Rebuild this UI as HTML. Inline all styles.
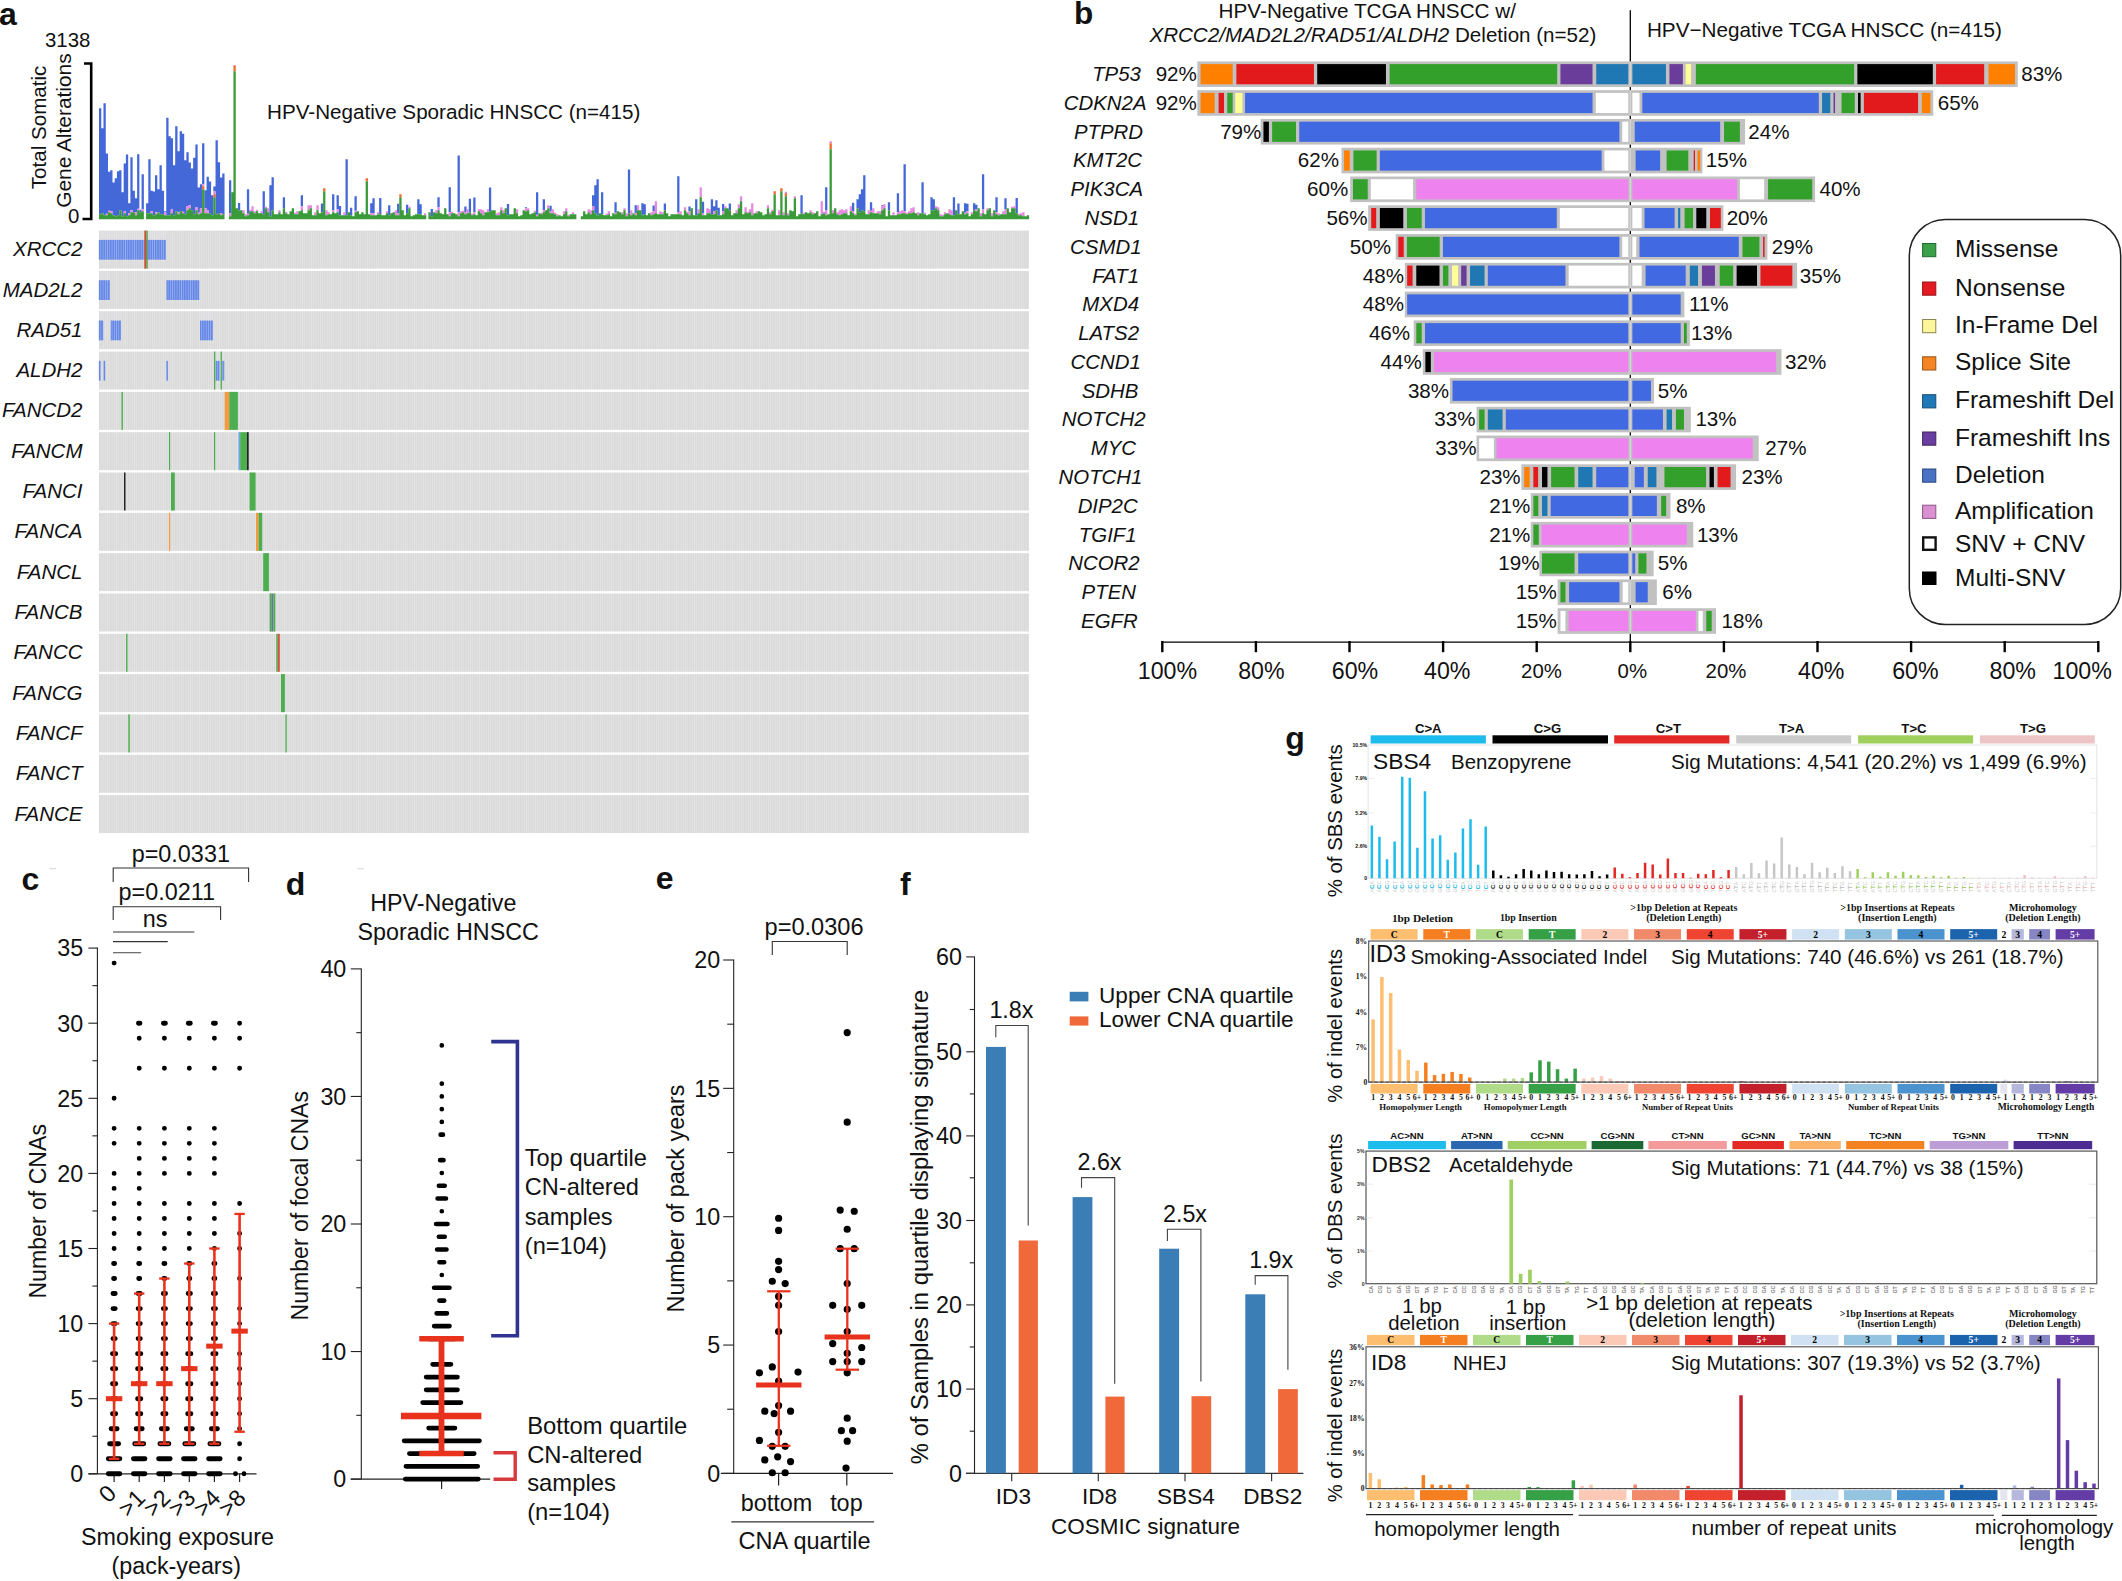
<!DOCTYPE html>
<html lang="en"><head><meta charset="utf-8"><title>Figure</title>
<style>
html,body{margin:0;padding:0;background:#fff;}
body{width:2122px;height:1581px;overflow:hidden;}
svg{display:block;}
text{font-family:"Liberation Sans",Arial,Helvetica,sans-serif;}
text.s{font-family:"Liberation Serif","Times New Roman",Times,serif;}
</style></head><body>
<svg width="2122" height="1581" viewBox="0 0 2122 1581">
<rect width="2122" height="1581" fill="#fff"/>
<g fill="#111">
<text x="-1" y="24.5" font-size="32" font-weight="bold">a</text>
<text x="45" y="47" font-size="20.4">3138</text>
<text x="68" y="223.4" font-size="20.4">0</text>
<path d="M84 63.5H91.2V219H82.5" stroke="#000" stroke-width="2.6" fill="none"/>
<text text-anchor="middle" font-size="20.6" transform="translate(46 127.4) rotate(-90)">Total Somatic</text>
<text text-anchor="middle" font-size="20.9" transform="translate(71 130.6) rotate(-90)">Gene Alterations</text>
<text x="267" y="119" font-size="20.65">HPV-Negative Sporadic HNSCC (n=415)</text>
<path d="M99 214.2v-106h2.29v106zM101.24 213.2v-85h2.29v85zM103.48 215.2v-112h2.29v112zM105.72 213.7v-60.1h2.29v60.1zM107.96 210.7v-39h2.29v39zM110.2 211.2v-41h2.29v41zM112.45 215.2v-32.8h2.29v32.8zM114.69 216.2v-38h2.29v38zM116.93 215.2v-44h2.29v44zM119.17 210.2v-40h2.29v40zM121.41 216.2v-24h2.29v24zM123.65 211.2v-47.7h2.29v47.7zM125.89 216.2v-61.8h2.29v61.8zM128.13 213.2v-10h2.29v10zM130.37 210.2v-53h2.29v53zM132.61 212.2v-21.5h2.29v21.5zM134.86 212.2v-14h2.29v14zM137.1 208.7v-54.5h2.29v54.5zM139.34 212.2v-2.5h2.29v2.5zM141.58 209.2v-35h2.29v35zM146.06 213.2v-10h2.29v10zM148.3 213.2v-54h2.29v54zM150.54 211.2v-20.5h2.29v20.5zM152.78 215.2v-23.7h2.29v23.7zM155.02 212.2v-36.9h2.29v36.9zM157.27 212.2v-23h2.29v23zM159.51 214.2v-49h2.29v49zM161.75 214.2v-23.5h2.29v23.5zM163.99 212.2v-1h2.29v1zM166.23 215.2v-97.4h2.29v97.4zM168.47 215.2v-79h2.29v79zM170.71 209.2v-71h2.29v71zM172.95 215.2v-50h2.29v50zM175.19 211.2v-84.9h2.29v84.9zM177.43 212.2v-61h2.29v61zM179.67 211.2v-80h2.29v80zM181.92 211.7v-77.9h2.29v77.9zM184.16 214.2v-54h2.29v54zM186.4 206.2v-54h2.29v54zM188.64 205.2v-42.6h2.29v42.6zM190.88 210.2v-41.8h2.29v41.8zM193.12 214.2v-56.5h2.29v56.5zM195.36 207.2v-62.7h2.29v62.7zM197.6 212.7v-25.3h2.29v25.3zM199.84 208.2v-24h2.29v24zM202.08 184.2v-40.9h2.29v40.9zM204.33 208.2v-18h2.29v18zM206.57 210.2v-33.5h2.29v33.5zM208.81 213.2v-31.6h2.29v31.6zM211.05 215.2v-20h2.29v20zM213.29 191.2v-4.7h2.29v4.7zM215.53 214.2v-74h2.29v74zM217.77 213.2v-51h2.29v51zM220.01 213.2v-35.7h2.29v35.7zM222.25 214.2v-40.8h2.29v40.8zM228.98 213.2v-33h2.29v33zM237.94 210.2v-7.3h2.29v7.3zM246.9 213.7v-24.5h2.29v24.5zM262.59 214.2v-23h2.29v23zM269.31 216.2v-31h2.29v31zM271.55 210.2v-33h2.29v33zM282.76 208.2v-11h2.29v11zM300.69 206.2v-11h2.29v11zM320.86 212.2v-8.6h2.29v8.6zM332.06 210.2v-16h2.29v16zM336.54 209.2v-14h2.29v14zM338.78 215.2v-9.08h2.29v9.08zM345.51 215.2v-56h2.29v56zM349.99 215.2v-7.34h2.29v7.34zM354.47 210.7v-14.5h2.29v14.5zM370.16 213.2v-9.93h2.29v9.93zM372.4 213.2v-15h2.29v15zM379.12 214.2v-16.08h2.29v16.08zM388.08 215.2v-9.88h2.29v9.88zM397.05 213.2v-9.45h2.29v9.45zM406.01 213.2v-8.46h2.29v8.46zM417.22 214.2v-15h2.29v15zM419.46 214.2v-9.97h2.29v9.97zM430.66 216.2v-7.13h2.29v7.13zM437.39 207.2v-10h2.29v10zM448.59 212.2v-25h2.29v25zM457.55 212.2v-56.6h2.29v56.6zM464.28 212.2v-5.67h2.29v5.67zM468.76 212.2v-13.54h2.29v13.54zM473.24 212.2v-14.66h2.29v14.66zM488.93 211.2v-23.6h2.29v23.6zM506.86 215.2v-11.16h2.29v11.16zM524.78 208.2v-0.88h2.29v0.88zM535.99 214.7v-22.5h2.29v22.5zM542.71 210.2v-11h2.29v11zM549.43 211.2v-5.44h2.29v5.44zM592.01 206.2v-11h2.29v11zM594.25 213.2v-28h2.29v28zM596.49 215.2v-36h2.29v36zM600.98 214.2v-22h2.29v22zM614.42 212.7v-10.5h2.29v10.5zM627.87 213.2v-43.6h2.29v43.6zM634.59 213.2v-8h2.29v8zM641.31 215.2v-12h2.29v12zM643.55 214.2v-10.01h2.29v10.01zM652.52 211.2v-5.76h2.29v5.76zM663.72 210.2v-6.82h2.29v6.82zM677.17 212.2v-36h2.29v36zM688.37 211.2v-4.75h2.29v4.75zM695.1 215.2v-16h2.29v16zM701.82 213.2v-11.36h2.29v11.36zM710.78 214.2v-15h2.29v15zM713.02 211.2v-4.88h2.29v4.88zM715.27 210.2v-10h2.29v10zM717.51 215.2v-7.36h2.29v7.36zM721.99 211.2v-7.23h2.29v7.23zM728.71 210.2v-6.78h2.29v6.78zM800.42 213.2v-18h2.29v18zM825.07 210.2v-23h2.29v23zM851.96 211.2v-8.57h2.29v8.57zM856.45 208.2v-9h2.29v9zM858.69 212.2v-18h2.29v18zM860.93 210.2v-21h2.29v21zM863.17 211.2v-36h2.29v36zM869.89 210.7v-8.4h2.29v8.4zM881.1 206.2v-1h2.29v1zM887.82 210.2v-8h2.29v8zM896.78 212.2v-19h2.29v19zM903.51 211.2v-47h2.29v47zM921.43 213.2v-31h2.29v31zM930.4 210.2v-13h2.29v13zM932.64 210.2v-11h2.29v11zM952.81 215.2v-18h2.29v18zM957.29 214.2v-10.75h2.29v10.75zM964.01 212.7v-9.5h2.29v9.5zM966.25 211.2v-7.45h2.29v7.45zM972.98 210.2v-7h2.29v7zM975.22 209.2v-4.38h2.29v4.38zM981.94 209.2v-35h2.29v35zM995.39 212.2v-15h2.29v15zM1004.35 209.2v-11h2.29v11zM1015.55 213.2v-15.29h2.29v15.29z" fill="#4468d8"/>
<path d="M105.72 215.2v-1.5h2.29v1.5zM107.96 212.2v-1.5h2.29v1.5zM110.2 213.2v-2h2.29v2zM123.65 213.2v-2h2.29v2zM128.13 215.2v-2h2.29v2zM130.37 212.2v-2h2.29v2zM134.86 215.2v-3h2.29v3zM137.1 210.2v-1.5h2.29v1.5zM141.58 211.2v-2h2.29v2zM150.54 213.2v-2h2.29v2zM155.02 214.2v-2h2.29v2zM163.99 215.2v-3h2.29v3zM170.71 213.2v-4h2.29v4zM177.43 214.2v-2h2.29v2zM181.92 213.2v-1.5h2.29v1.5zM186.4 210.2v-4h2.29v4zM188.64 208.2v-3h2.29v3zM195.36 210.2v-3h2.29v3zM197.6 214.2v-1.5h2.29v1.5zM199.84 213.2v-5h2.29v5zM202.08 186.2v-2h2.29v2zM204.33 213.2v-5h2.29v5zM206.57 213.2v-3h2.29v3zM213.29 194.2v-3h2.29v3zM220.01 215.2v-2h2.29v2zM228.98 216.2v-3h2.29v3zM242.42 213.2v-3h2.29v3zM244.66 216.2v-2h2.29v2zM246.9 215.2v-1.5h2.29v1.5zM249.14 211.2v-1.5h2.29v1.5zM251.39 211.2v-5h2.29v5zM253.63 213.2v-2h2.29v2zM255.87 211.2v-1.5h2.29v1.5zM260.35 213.2v-2h2.29v2zM264.83 208.2v-1.5h2.29v1.5zM267.07 212.2v-4h2.29v4zM278.28 212.2v-2h2.29v2zM285 213.2v-1.5h2.29v1.5zM293.96 214.2v-1.5h2.29v1.5zM296.2 214.2v-3h2.29v3zM300.69 210.2v-4h2.29v4zM307.41 210.2v-5h2.29v5zM309.65 208.2v-3h2.29v3zM314.13 215.2v-3h2.29v3zM316.37 210.2v-5h2.29v5zM325.34 215.2v-5h2.29v5zM327.58 214.2v-2h2.29v2zM332.06 212.2v-2h2.29v2zM336.54 212.2v-3h2.29v3zM343.27 215.2v-3h2.29v3zM354.47 212.2v-1.5h2.29v1.5zM370.16 215.2v-2h2.29v2zM372.4 215.2v-2h2.29v2zM376.88 214.2v-2h2.29v2zM385.84 213.2v-2h2.29v2zM394.81 215.2v-5h2.29v5zM397.05 215.2v-2h2.29v2zM408.25 208.2v-1.5h2.29v1.5zM423.94 215.2v-2h2.29v2zM435.14 213.2v-3h2.29v3zM437.39 210.2v-3h2.29v3zM448.59 216.2v-4h2.29v4zM450.83 213.2v-1.5h2.29v1.5zM457.55 216.2v-4h2.29v4zM459.8 213.2v-2h2.29v2zM462.04 212.2v-1.5h2.29v1.5zM464.28 214.2v-2h2.29v2zM466.52 213.2v-4h2.29v4zM471 215.2v-1.5h2.29v1.5zM473.24 214.2v-2h2.29v2zM477.72 211.2v-2h2.29v2zM479.96 213.2v-4h2.29v4zM482.2 215.2v-5h2.29v5zM486.69 212.2v-3h2.29v3zM495.65 215.2v-2h2.29v2zM497.89 215.2v-3h2.29v3zM500.13 210.2v-3h2.29v3zM502.37 213.2v-3h2.29v3zM515.82 213.2v-4h2.29v4zM524.78 211.2v-3h2.29v3zM527.02 210.2v-2h2.29v2zM533.75 212.2v-1.5h2.29v1.5zM535.99 216.2v-1.5h2.29v1.5zM540.47 214.2v-1.5h2.29v1.5zM542.71 212.2v-2h2.29v2zM547.19 208.2v-3h2.29v3zM549.43 213.2v-2h2.29v2zM551.67 213.2v-4h2.29v4zM553.92 214.2v-1.5h2.29v1.5zM556.16 216.2v-2h2.29v2zM562.88 214.2v-3h2.29v3zM565.12 211.2v-3h2.29v3zM567.36 216.2v-1.5h2.29v1.5zM571.84 214.2v-2h2.29v2zM587.53 212.2v-3h2.29v3zM589.77 214.2v-4h2.29v4zM592.01 210.2v-4h2.29v4zM605.46 215.2v-1.5h2.29v1.5zM607.7 214.2v-3h2.29v3zM614.42 214.2v-1.5h2.29v1.5zM621.14 214.2v-2h2.29v2zM623.39 210.2v-2h2.29v2zM625.63 216.2v-3h2.29v3zM630.11 215.2v-5h2.29v5zM634.59 215.2v-2h2.29v2zM636.83 210.2v-5h2.29v5zM650.28 215.2v-3h2.29v3zM652.52 214.2v-3h2.29v3zM654.76 213.2v-12h2.29v12zM659.24 214.2v-3h2.29v3zM661.48 214.2v-2h2.29v2zM677.17 214.2v-2h2.29v2zM679.41 214.2v-3h2.29v3zM683.89 210.2v-3h2.29v3zM686.13 213.2v-1.5h2.29v1.5zM688.37 215.2v-4h2.29v4zM697.34 213.2v-4h2.29v4zM699.58 197.2v-10h2.29v10zM701.82 215.2v-2h2.29v2zM706.3 213.2v-5h2.29v5zM708.54 213.2v-4h2.29v4zM713.02 214.2v-3h2.29v3zM721.99 214.2v-3h2.29v3zM724.23 208.2v-2h2.29v2zM735.43 213.2v-3h2.29v3zM737.67 208.2v-4h2.29v4zM739.92 201.2v-5h2.29v5zM744.4 212.2v-5h2.29v5zM746.64 213.2v-1.5h2.29v1.5zM748.88 212.2v-3h2.29v3zM751.12 215.2v-12h2.29v12zM755.6 213.2v-2h2.29v2zM766.81 208.2v-3h2.29v3zM769.05 214.2v-2h2.29v2zM771.29 211.2v-1.5h2.29v1.5zM778.01 215.2v-5h2.29v5zM782.49 215.2v-3h2.29v3zM784.73 193.2v-1.5h2.29v1.5zM786.98 215.2v-2h2.29v2zM793.7 198.2v-2h2.29v2zM802.66 214.2v-1.5h2.29v1.5zM809.39 212.2v-2h2.29v2zM811.63 214.2v-2h2.29v2zM820.59 214.2v-13h2.29v13zM822.83 213.2v-1.5h2.29v1.5zM825.07 215.2v-5h2.29v5zM829.55 143.2v-2h2.29v2zM831.8 213.2v-3h2.29v3zM836.28 214.2v-2h2.29v2zM838.52 215.2v-5h2.29v5zM840.76 214.2v-5h2.29v5zM843 213.2v-3h2.29v3zM845.24 213.2v-4h2.29v4zM849.72 211.2v-5h2.29v5zM851.96 213.2v-2h2.29v2zM854.2 215.2v-1.5h2.29v1.5zM867.65 214.2v-4h2.29v4zM869.89 212.2v-1.5h2.29v1.5zM872.13 213.2v-5h2.29v5zM876.61 213.2v-2h2.29v2zM878.86 214.2v-3h2.29v3zM881.1 210.2v-4h2.29v4zM883.34 208.2v-4h2.29v4zM892.3 215.2v-3h2.29v3zM896.78 214.2v-2h2.29v2zM899.02 214.2v-3h2.29v3zM901.27 213.2v-3h2.29v3zM903.51 213.2v-2h2.29v2zM905.75 214.2v-1.5h2.29v1.5zM907.99 213.2v-2h2.29v2zM910.23 213.2v-5h2.29v5zM912.47 212.2v-5h2.29v5zM916.95 215.2v-3h2.29v3zM923.67 214.2v-1.5h2.29v1.5zM934.88 208.2v-2h2.29v2zM937.12 210.2v-3h2.29v3zM939.36 216.2v-2h2.29v2zM941.6 216.2v-1.5h2.29v1.5zM943.84 214.2v-2h2.29v2zM948.33 214.2v-5h2.29v5zM950.57 215.2v-5h2.29v5zM964.01 214.2v-1.5h2.29v1.5zM966.25 213.2v-2h2.29v2zM970.73 214.2v-2h2.29v2zM975.22 211.2v-2h2.29v2zM979.7 216.2v-3h2.29v3zM981.94 213.2v-4h2.29v4zM986.42 210.2v-2h2.29v2zM990.9 216.2v-3h2.29v3zM995.39 214.2v-2h2.29v2zM997.63 215.2v-2h2.29v2zM1002.11 214.2v-3h2.29v3zM1004.35 214.2v-5h2.29v5zM1011.07 208.2v-1.5h2.29v1.5zM1013.31 208.2v-2h2.29v2zM1017.8 215.2v-1.5h2.29v1.5zM1020.04 215.2v-2h2.29v2zM1022.28 216.2v-4h2.29v4z" fill="#e58ae0"/>
<path d="M99 219.2v-5h2.29v5zM101.24 219.2v-6h2.29v6zM103.48 219.2v-4h2.29v4zM105.72 219.2v-4h2.29v4zM107.96 219.2v-7h2.29v7zM110.2 219.2v-6h2.29v6zM112.45 219.2v-4h2.29v4zM114.69 219.2v-3h2.29v3zM116.93 219.2v-4h2.29v4zM119.17 219.2v-9h2.29v9zM121.41 219.2v-3h2.29v3zM123.65 219.2v-6h2.29v6zM125.89 219.2v-3h2.29v3zM128.13 219.2v-4h2.29v4zM130.37 219.2v-7h2.29v7zM132.61 219.2v-7h2.29v7zM134.86 219.2v-4h2.29v4zM137.1 219.2v-9h2.29v9zM139.34 219.2v-7h2.29v7zM141.58 219.2v-8h2.29v8zM146.06 219.2v-6h2.29v6zM148.3 219.2v-6h2.29v6zM150.54 219.2v-6h2.29v6zM152.78 219.2v-4h2.29v4zM155.02 219.2v-5h2.29v5zM157.27 219.2v-7h2.29v7zM159.51 219.2v-5h2.29v5zM161.75 219.2v-5h2.29v5zM163.99 219.2v-4h2.29v4zM166.23 219.2v-4h2.29v4zM168.47 219.2v-4h2.29v4zM170.71 219.2v-6h2.29v6zM172.95 219.2v-4h2.29v4zM175.19 219.2v-8h2.29v8zM177.43 219.2v-5h2.29v5zM179.67 219.2v-8h2.29v8zM181.92 219.2v-6h2.29v6zM184.16 219.2v-5h2.29v5zM186.4 219.2v-9h2.29v9zM188.64 219.2v-11h2.29v11zM190.88 219.2v-9h2.29v9zM193.12 219.2v-5h2.29v5zM195.36 219.2v-9h2.29v9zM197.6 219.2v-5h2.29v5zM199.84 219.2v-6h2.29v6zM202.08 219.2v-30h2.29v30zM204.33 219.2v-6h2.29v6zM206.57 219.2v-6h2.29v6zM208.81 219.2v-6h2.29v6zM211.05 219.2v-4h2.29v4zM213.29 219.2v-22h2.29v22zM215.53 219.2v-5h2.29v5zM217.77 219.2v-6h2.29v6zM220.01 219.2v-4h2.29v4zM222.25 219.2v-5h2.29v5zM228.98 219.2v-3h2.29v3zM231.22 219.2v-27h2.29v27zM233.46 219.2v-148h2.29v148zM235.7 219.2v-11h2.29v11zM237.94 219.2v-9h2.29v9zM240.18 219.2v-9h2.29v9zM242.42 219.2v-6h2.29v6zM244.66 219.2v-3h2.29v3zM246.9 219.2v-4h2.29v4zM249.14 219.2v-8h2.29v8zM251.39 219.2v-8h2.29v8zM253.63 219.2v-6h2.29v6zM255.87 219.2v-8h2.29v8zM258.11 219.2v-6h2.29v6zM260.35 219.2v-6h2.29v6zM262.59 219.2v-5h2.29v5zM264.83 219.2v-11h2.29v11zM267.07 219.2v-7h2.29v7zM269.31 219.2v-3h2.29v3zM271.55 219.2v-9h2.29v9zM273.8 219.2v-5h2.29v5zM276.04 219.2v-5h2.29v5zM278.28 219.2v-7h2.29v7zM280.52 219.2v-5h2.29v5zM282.76 219.2v-11h2.29v11zM285 219.2v-6h2.29v6zM287.24 219.2v-5h2.29v5zM289.48 219.2v-8h2.29v8zM291.72 219.2v-11h2.29v11zM293.96 219.2v-5h2.29v5zM296.2 219.2v-5h2.29v5zM298.45 219.2v-8h2.29v8zM300.69 219.2v-9h2.29v9zM302.93 219.2v-6h2.29v6zM305.17 219.2v-6h2.29v6zM307.41 219.2v-9h2.29v9zM309.65 219.2v-11h2.29v11zM311.89 219.2v-4h2.29v4zM314.13 219.2v-4h2.29v4zM316.37 219.2v-9h2.29v9zM318.61 219.2v-6h2.29v6zM320.86 219.2v-7h2.29v7zM323.1 219.2v-28h2.29v28zM325.34 219.2v-4h2.29v4zM327.58 219.2v-5h2.29v5zM329.82 219.2v-5h2.29v5zM332.06 219.2v-7h2.29v7zM334.3 219.2v-6h2.29v6zM336.54 219.2v-7h2.29v7zM338.78 219.2v-4h2.29v4zM341.02 219.2v-4h2.29v4zM343.27 219.2v-4h2.29v4zM345.51 219.2v-4h2.29v4zM347.75 219.2v-7h2.29v7zM349.99 219.2v-4h2.29v4zM352.23 219.2v-3h2.29v3zM354.47 219.2v-7h2.29v7zM356.71 219.2v-8h2.29v8zM358.95 219.2v-5h2.29v5zM361.19 219.2v-7h2.29v7zM363.43 219.2v-5h2.29v5zM365.67 219.2v-38h2.29v38zM367.92 219.2v-5h2.29v5zM370.16 219.2v-4h2.29v4zM372.4 219.2v-4h2.29v4zM374.64 219.2v-4h2.29v4zM376.88 219.2v-5h2.29v5zM379.12 219.2v-5h2.29v5zM381.36 219.2v-4h2.29v4zM383.6 219.2v-4h2.29v4zM385.84 219.2v-6h2.29v6zM388.08 219.2v-4h2.29v4zM390.33 219.2v-6h2.29v6zM392.57 219.2v-7h2.29v7zM394.81 219.2v-4h2.29v4zM397.05 219.2v-4h2.29v4zM399.29 219.2v-22h2.29v22zM401.53 219.2v-9h2.29v9zM403.77 219.2v-4h2.29v4zM406.01 219.2v-6h2.29v6zM408.25 219.2v-11h2.29v11zM410.49 219.2v-3h2.29v3zM412.73 219.2v-4h2.29v4zM414.98 219.2v-5h2.29v5zM417.22 219.2v-5h2.29v5zM419.46 219.2v-5h2.29v5zM421.7 219.2v-4h2.29v4zM423.94 219.2v-4h2.29v4zM428.42 219.2v-7h2.29v7zM430.66 219.2v-3h2.29v3zM432.9 219.2v-7h2.29v7zM435.14 219.2v-6h2.29v6zM437.39 219.2v-9h2.29v9zM439.63 219.2v-6h2.29v6zM441.87 219.2v-5h2.29v5zM444.11 219.2v-11h2.29v11zM446.35 219.2v-5h2.29v5zM448.59 219.2v-3h2.29v3zM450.83 219.2v-6h2.29v6zM453.07 219.2v-6h2.29v6zM455.31 219.2v-5h2.29v5zM457.55 219.2v-3h2.29v3zM459.8 219.2v-6h2.29v6zM462.04 219.2v-7h2.29v7zM464.28 219.2v-5h2.29v5zM466.52 219.2v-6h2.29v6zM468.76 219.2v-7h2.29v7zM471 219.2v-4h2.29v4zM473.24 219.2v-5h2.29v5zM475.48 219.2v-4h2.29v4zM477.72 219.2v-8h2.29v8zM479.96 219.2v-6h2.29v6zM482.2 219.2v-4h2.29v4zM484.45 219.2v-7h2.29v7zM486.69 219.2v-7h2.29v7zM488.93 219.2v-8h2.29v8zM491.17 219.2v-9h2.29v9zM493.41 219.2v-9h2.29v9zM495.65 219.2v-4h2.29v4zM497.89 219.2v-4h2.29v4zM500.13 219.2v-9h2.29v9zM502.37 219.2v-6h2.29v6zM504.61 219.2v-11h2.29v11zM506.86 219.2v-4h2.29v4zM509.1 219.2v-5h2.29v5zM511.34 219.2v-5h2.29v5zM513.58 219.2v-11h2.29v11zM515.82 219.2v-6h2.29v6zM518.06 219.2v-3h2.29v3zM520.3 219.2v-4h2.29v4zM522.54 219.2v-9h2.29v9zM524.78 219.2v-8h2.29v8zM527.02 219.2v-9h2.29v9zM529.27 219.2v-5h2.29v5zM531.51 219.2v-6h2.29v6zM533.75 219.2v-7h2.29v7zM535.99 219.2v-3h2.29v3zM538.23 219.2v-6h2.29v6zM540.47 219.2v-5h2.29v5zM542.71 219.2v-7h2.29v7zM544.95 219.2v-9h2.29v9zM547.19 219.2v-11h2.29v11zM549.43 219.2v-6h2.29v6zM551.67 219.2v-6h2.29v6zM553.92 219.2v-5h2.29v5zM556.16 219.2v-3h2.29v3zM558.4 219.2v-4h2.29v4zM560.64 219.2v-3h2.29v3zM562.88 219.2v-5h2.29v5zM565.12 219.2v-8h2.29v8zM567.36 219.2v-3h2.29v3zM569.6 219.2v-5h2.29v5zM571.84 219.2v-5h2.29v5zM574.08 219.2v-5h2.29v5zM580.81 219.2v-3h2.29v3zM583.05 219.2v-8h2.29v8zM585.29 219.2v-5h2.29v5zM587.53 219.2v-7h2.29v7zM589.77 219.2v-5h2.29v5zM592.01 219.2v-9h2.29v9zM594.25 219.2v-6h2.29v6zM596.49 219.2v-4h2.29v4zM598.73 219.2v-6h2.29v6zM600.98 219.2v-5h2.29v5zM603.22 219.2v-4h2.29v4zM605.46 219.2v-4h2.29v4zM607.7 219.2v-5h2.29v5zM609.94 219.2v-3h2.29v3zM612.18 219.2v-6h2.29v6zM614.42 219.2v-5h2.29v5zM616.66 219.2v-8h2.29v8zM618.9 219.2v-7h2.29v7zM621.14 219.2v-5h2.29v5zM623.39 219.2v-9h2.29v9zM625.63 219.2v-3h2.29v3zM627.87 219.2v-6h2.29v6zM630.11 219.2v-4h2.29v4zM632.35 219.2v-6h2.29v6zM634.59 219.2v-4h2.29v4zM636.83 219.2v-9h2.29v9zM639.07 219.2v-9h2.29v9zM641.31 219.2v-4h2.29v4zM643.55 219.2v-5h2.29v5zM645.8 219.2v-4h2.29v4zM648.04 219.2v-6h2.29v6zM650.28 219.2v-4h2.29v4zM652.52 219.2v-5h2.29v5zM654.76 219.2v-6h2.29v6zM657 219.2v-5h2.29v5zM659.24 219.2v-5h2.29v5zM661.48 219.2v-5h2.29v5zM663.72 219.2v-9h2.29v9zM665.96 219.2v-6h2.29v6zM668.2 219.2v-3h2.29v3zM670.45 219.2v-5h2.29v5zM672.69 219.2v-5h2.29v5zM674.93 219.2v-5h2.29v5zM677.17 219.2v-5h2.29v5zM679.41 219.2v-5h2.29v5zM681.65 219.2v-4h2.29v4zM683.89 219.2v-9h2.29v9zM686.13 219.2v-6h2.29v6zM688.37 219.2v-4h2.29v4zM690.61 219.2v-11h2.29v11zM692.86 219.2v-4h2.29v4zM695.1 219.2v-4h2.29v4zM697.34 219.2v-6h2.29v6zM699.58 219.2v-22h2.29v22zM701.82 219.2v-4h2.29v4zM704.06 219.2v-4h2.29v4zM706.3 219.2v-6h2.29v6zM708.54 219.2v-6h2.29v6zM710.78 219.2v-5h2.29v5zM713.02 219.2v-5h2.29v5zM715.27 219.2v-9h2.29v9zM717.51 219.2v-4h2.29v4zM719.75 219.2v-4h2.29v4zM721.99 219.2v-5h2.29v5zM724.23 219.2v-11h2.29v11zM726.47 219.2v-11h2.29v11zM728.71 219.2v-9h2.29v9zM730.95 219.2v-4h2.29v4zM733.19 219.2v-6h2.29v6zM735.43 219.2v-6h2.29v6zM737.67 219.2v-11h2.29v11zM739.92 219.2v-18h2.29v18zM742.16 219.2v-5h2.29v5zM744.4 219.2v-7h2.29v7zM746.64 219.2v-6h2.29v6zM748.88 219.2v-7h2.29v7zM751.12 219.2v-4h2.29v4zM753.36 219.2v-6h2.29v6zM755.6 219.2v-6h2.29v6zM757.84 219.2v-8h2.29v8zM760.08 219.2v-7h2.29v7zM762.33 219.2v-4h2.29v4zM764.57 219.2v-5h2.29v5zM766.81 219.2v-11h2.29v11zM769.05 219.2v-5h2.29v5zM771.29 219.2v-8h2.29v8zM773.53 219.2v-25h2.29v25zM775.77 219.2v-4h2.29v4zM778.01 219.2v-4h2.29v4zM780.25 219.2v-28h2.29v28zM782.49 219.2v-4h2.29v4zM784.73 219.2v-23h2.29v23zM786.98 219.2v-4h2.29v4zM789.22 219.2v-9h2.29v9zM791.46 219.2v-8h2.29v8zM793.7 219.2v-21h2.29v21zM795.94 219.2v-3h2.29v3zM798.18 219.2v-5h2.29v5zM800.42 219.2v-6h2.29v6zM802.66 219.2v-5h2.29v5zM804.9 219.2v-7h2.29v7zM807.14 219.2v-6h2.29v6zM809.39 219.2v-7h2.29v7zM811.63 219.2v-5h2.29v5zM813.87 219.2v-6h2.29v6zM816.11 219.2v-8h2.29v8zM818.35 219.2v-3h2.29v3zM820.59 219.2v-5h2.29v5zM822.83 219.2v-6h2.29v6zM825.07 219.2v-4h2.29v4zM827.31 219.2v-5h2.29v5zM829.55 219.2v-70h2.29v70zM831.8 219.2v-6h2.29v6zM834.04 219.2v-11h2.29v11zM836.28 219.2v-5h2.29v5zM838.52 219.2v-4h2.29v4zM840.76 219.2v-5h2.29v5zM843 219.2v-6h2.29v6zM845.24 219.2v-6h2.29v6zM847.48 219.2v-4h2.29v4zM849.72 219.2v-8h2.29v8zM851.96 219.2v-6h2.29v6zM854.2 219.2v-4h2.29v4zM856.45 219.2v-11h2.29v11zM858.69 219.2v-7h2.29v7zM860.93 219.2v-9h2.29v9zM863.17 219.2v-8h2.29v8zM865.41 219.2v-5h2.29v5zM867.65 219.2v-5h2.29v5zM869.89 219.2v-7h2.29v7zM872.13 219.2v-6h2.29v6zM874.37 219.2v-6h2.29v6zM876.61 219.2v-6h2.29v6zM878.86 219.2v-5h2.29v5zM881.1 219.2v-9h2.29v9zM883.34 219.2v-11h2.29v11zM885.58 219.2v-3h2.29v3zM887.82 219.2v-9h2.29v9zM890.06 219.2v-4h2.29v4zM892.3 219.2v-4h2.29v4zM894.54 219.2v-4h2.29v4zM896.78 219.2v-5h2.29v5zM899.02 219.2v-5h2.29v5zM901.27 219.2v-6h2.29v6zM903.51 219.2v-6h2.29v6zM905.75 219.2v-5h2.29v5zM907.99 219.2v-6h2.29v6zM910.23 219.2v-6h2.29v6zM912.47 219.2v-7h2.29v7zM914.71 219.2v-6h2.29v6zM916.95 219.2v-4h2.29v4zM919.19 219.2v-6h2.29v6zM921.43 219.2v-6h2.29v6zM923.67 219.2v-5h2.29v5zM925.92 219.2v-4h2.29v4zM928.16 219.2v-5h2.29v5zM930.4 219.2v-9h2.29v9zM932.64 219.2v-9h2.29v9zM934.88 219.2v-11h2.29v11zM937.12 219.2v-9h2.29v9zM939.36 219.2v-3h2.29v3zM941.6 219.2v-3h2.29v3zM943.84 219.2v-5h2.29v5zM946.08 219.2v-6h2.29v6zM948.33 219.2v-5h2.29v5zM950.57 219.2v-4h2.29v4zM952.81 219.2v-4h2.29v4zM955.05 219.2v-9h2.29v9zM957.29 219.2v-5h2.29v5zM959.53 219.2v-5h2.29v5zM961.77 219.2v-8h2.29v8zM964.01 219.2v-5h2.29v5zM966.25 219.2v-6h2.29v6zM968.49 219.2v-3h2.29v3zM970.73 219.2v-5h2.29v5zM972.98 219.2v-9h2.29v9zM975.22 219.2v-8h2.29v8zM977.46 219.2v-11h2.29v11zM979.7 219.2v-3h2.29v3zM981.94 219.2v-6h2.29v6zM984.18 219.2v-5h2.29v5zM986.42 219.2v-9h2.29v9zM988.66 219.2v-11h2.29v11zM990.9 219.2v-3h2.29v3zM993.14 219.2v-9h2.29v9zM995.39 219.2v-5h2.29v5zM997.63 219.2v-4h2.29v4zM999.87 219.2v-5h2.29v5zM1002.11 219.2v-5h2.29v5zM1004.35 219.2v-5h2.29v5zM1006.59 219.2v-11h2.29v11zM1008.83 219.2v-7h2.29v7zM1011.07 219.2v-11h2.29v11zM1013.31 219.2v-11h2.29v11zM1015.55 219.2v-6h2.29v6zM1017.8 219.2v-4h2.29v4zM1020.04 219.2v-4h2.29v4zM1022.28 219.2v-3h2.29v3zM1024.52 219.2v-3h2.29v3zM1026.76 219.2v-4h2.29v4z" fill="#3a9a3a"/>
<path d="M202.08 189.2v-3h2.29v3zM213.29 197.2v-3h2.29v3zM233.46 71.2v-6h2.29v6zM323.1 191.2v-3h2.29v3zM365.67 181.2v-3h2.29v3zM399.29 197.2v-3h2.29v3zM773.53 194.2v-3h2.29v3zM780.25 191.2v-3h2.29v3zM784.73 196.2v-3h2.29v3zM829.55 149.2v-6h2.29v6z" fill="#f06a2a"/>
<pattern id="oc" x="99" y="0" width="2.24" height="10" patternUnits="userSpaceOnUse"><rect width="2.24" height="10" fill="#dadada"/><rect x="1.74" width="0.5" height="10" fill="#e9e9e9"/></pattern>
<pattern id="ob" x="99" y="0" width="2.24" height="10" patternUnits="userSpaceOnUse"><rect width="2.24" height="10" fill="#6687e6"/><rect x="1.69" width="0.55" height="10" fill="#a9bdf3"/></pattern>
<rect x="99" y="230.6" width="930" height="38" fill="url(#oc)"/>
<text x="82.5" y="256.2" text-anchor="end" font-size="20.5" font-style="italic">XRCC2</text>
<rect x="99" y="270.92" width="930" height="38" fill="url(#oc)"/>
<text x="82.5" y="296.52" text-anchor="end" font-size="20.5" font-style="italic">MAD2L2</text>
<rect x="99" y="311.24" width="930" height="38" fill="url(#oc)"/>
<text x="82.5" y="336.84" text-anchor="end" font-size="20.5" font-style="italic">RAD51</text>
<rect x="99" y="351.56" width="930" height="38" fill="url(#oc)"/>
<text x="82.5" y="377.16" text-anchor="end" font-size="20.5" font-style="italic">ALDH2</text>
<rect x="99" y="391.88" width="930" height="38" fill="url(#oc)"/>
<text x="82.5" y="417.48" text-anchor="end" font-size="20.5" font-style="italic">FANCD2</text>
<rect x="99" y="432.2" width="930" height="38" fill="url(#oc)"/>
<text x="82.5" y="457.8" text-anchor="end" font-size="20.5" font-style="italic">FANCM</text>
<rect x="99" y="472.52" width="930" height="38" fill="url(#oc)"/>
<text x="82.5" y="498.12" text-anchor="end" font-size="20.5" font-style="italic">FANCI</text>
<rect x="99" y="512.84" width="930" height="38" fill="url(#oc)"/>
<text x="82.5" y="538.44" text-anchor="end" font-size="20.5" font-style="italic">FANCA</text>
<rect x="99" y="553.16" width="930" height="38" fill="url(#oc)"/>
<text x="82.5" y="578.76" text-anchor="end" font-size="20.5" font-style="italic">FANCL</text>
<rect x="99" y="593.48" width="930" height="38" fill="url(#oc)"/>
<text x="82.5" y="619.08" text-anchor="end" font-size="20.5" font-style="italic">FANCB</text>
<rect x="99" y="633.8" width="930" height="38" fill="url(#oc)"/>
<text x="82.5" y="659.4" text-anchor="end" font-size="20.5" font-style="italic">FANCC</text>
<rect x="99" y="674.12" width="930" height="38" fill="url(#oc)"/>
<text x="82.5" y="699.72" text-anchor="end" font-size="20.5" font-style="italic">FANCG</text>
<rect x="99" y="714.44" width="930" height="38" fill="url(#oc)"/>
<text x="82.5" y="740.04" text-anchor="end" font-size="20.5" font-style="italic">FANCF</text>
<rect x="99" y="754.76" width="930" height="38" fill="url(#oc)"/>
<text x="82.5" y="780.36" text-anchor="end" font-size="20.5" font-style="italic">FANCT</text>
<rect x="99" y="795.08" width="930" height="38" fill="url(#oc)"/>
<text x="82.5" y="820.68" text-anchor="end" font-size="20.5" font-style="italic">FANCE</text>
<rect x="98.8" y="231.4" width="67.2" height="8.5" fill="#ebebf7" opacity="0.2"/>
<rect x="98.8" y="259.7" width="67.2" height="2.6" fill="#ebebf7" opacity="0.12"/>
<rect x="98.8" y="239.9" width="67.2" height="19.8" fill="url(#ob)"/>
<rect x="144.3" y="230.6" width="2.3" height="38" fill="#c8533a"/>
<rect x="146.6" y="230.6" width="1.2" height="38" fill="#4cae4f"/>
<rect x="98.8" y="271.72" width="11.2" height="8.5" fill="#ebebf7" opacity="0.2"/>
<rect x="98.8" y="300.02" width="11.2" height="2.6" fill="#ebebf7" opacity="0.12"/>
<rect x="98.8" y="280.22" width="11.2" height="19.8" fill="url(#ob)"/>
<rect x="166.4" y="271.72" width="33" height="8.5" fill="#ebebf7" opacity="0.2"/>
<rect x="166.4" y="300.02" width="33" height="2.6" fill="#ebebf7" opacity="0.12"/>
<rect x="166.4" y="280.22" width="33" height="19.8" fill="url(#ob)"/>
<rect x="98.8" y="312.04" width="4.4" height="8.5" fill="#ebebf7" opacity="0.2"/>
<rect x="98.8" y="340.34" width="4.4" height="2.6" fill="#ebebf7" opacity="0.12"/>
<rect x="98.8" y="320.54" width="4.4" height="19.8" fill="url(#ob)"/>
<rect x="110.7" y="312.04" width="10.3" height="8.5" fill="#ebebf7" opacity="0.2"/>
<rect x="110.7" y="340.34" width="10.3" height="2.6" fill="#ebebf7" opacity="0.12"/>
<rect x="110.7" y="320.54" width="10.3" height="19.8" fill="url(#ob)"/>
<rect x="200" y="312.04" width="13" height="8.5" fill="#ebebf7" opacity="0.2"/>
<rect x="200" y="340.34" width="13" height="2.6" fill="#ebebf7" opacity="0.12"/>
<rect x="200" y="320.54" width="13" height="19.8" fill="url(#ob)"/>
<rect x="98.8" y="352.36" width="1.9" height="8.5" fill="#ebebf7" opacity="0.2"/>
<rect x="98.8" y="380.66" width="1.9" height="2.6" fill="#ebebf7" opacity="0.12"/>
<rect x="98.8" y="360.86" width="1.9" height="19.8" fill="url(#ob)"/>
<rect x="103.5" y="352.36" width="1.8" height="8.5" fill="#ebebf7" opacity="0.2"/>
<rect x="103.5" y="380.66" width="1.8" height="2.6" fill="#ebebf7" opacity="0.12"/>
<rect x="103.5" y="360.86" width="1.8" height="19.8" fill="url(#ob)"/>
<rect x="166.4" y="352.36" width="1.6" height="8.5" fill="#ebebf7" opacity="0.2"/>
<rect x="166.4" y="380.66" width="1.6" height="2.6" fill="#ebebf7" opacity="0.12"/>
<rect x="166.4" y="360.86" width="1.6" height="19.8" fill="url(#ob)"/>
<rect x="215.6" y="352.36" width="4.2" height="8.5" fill="#ebebf7" opacity="0.2"/>
<rect x="215.6" y="380.66" width="4.2" height="2.6" fill="#ebebf7" opacity="0.12"/>
<rect x="215.6" y="360.86" width="4.2" height="19.8" fill="url(#ob)"/>
<rect x="222.3" y="352.36" width="2" height="8.5" fill="#ebebf7" opacity="0.2"/>
<rect x="222.3" y="380.66" width="2" height="2.6" fill="#ebebf7" opacity="0.12"/>
<rect x="222.3" y="360.86" width="2" height="19.8" fill="url(#ob)"/>
<rect x="214" y="351.56" width="1.3" height="38" fill="#4cae4f"/>
<rect x="220.6" y="351.56" width="1.3" height="38" fill="#4cae4f"/>
<rect x="121.5" y="391.88" width="1.4" height="38" fill="#4cae4f"/>
<rect x="224.7" y="391.88" width="4.6" height="38" fill="#f59a3e"/>
<rect x="229.3" y="391.88" width="8.6" height="38" fill="#4cae4f"/>
<rect x="169" y="432.2" width="1.2" height="38" fill="#4cae4f"/>
<rect x="214" y="432.2" width="1.2" height="38" fill="#4cae4f"/>
<rect x="238.5" y="432.2" width="1.7" height="38" fill="#6aa6e8"/>
<rect x="240.2" y="432.2" width="6.8" height="38" fill="#4cae4f"/>
<rect x="247" y="432.2" width="1.7" height="38" fill="#222"/>
<rect x="124" y="472.52" width="1.5" height="38" fill="#222"/>
<rect x="171" y="472.52" width="3.8" height="38" fill="#4cae4f"/>
<rect x="249.6" y="472.52" width="6" height="38" fill="#4cae4f"/>
<rect x="169" y="512.84" width="1.2" height="38" fill="#f59a3e"/>
<rect x="256" y="512.84" width="2.6" height="38" fill="#f59a3e"/>
<rect x="258.6" y="512.84" width="3.6" height="38" fill="#4cae4f"/>
<rect x="263.2" y="553.16" width="5.7" height="38" fill="#4cae4f"/>
<rect x="269.6" y="593.48" width="1.8" height="38" fill="#4cae4f"/>
<rect x="271.4" y="593.48" width="2" height="38" fill="#66789c"/>
<rect x="273.4" y="593.48" width="1.9" height="38" fill="#4cae4f"/>
<rect x="126.1" y="633.8" width="1.4" height="38" fill="#4cae4f"/>
<rect x="276.3" y="633.8" width="1.5" height="38" fill="#4cae4f"/>
<rect x="277.8" y="633.8" width="2" height="38" fill="#d8543e"/>
<rect x="281" y="674.12" width="3.9" height="38" fill="#4cae4f"/>
<rect x="128.3" y="714.44" width="1.5" height="38" fill="#4cae4f"/>
<rect x="285.4" y="714.44" width="1.3" height="38" fill="#4cae4f"/>
<text x="1074" y="24.2" font-size="31.5" font-weight="bold">b</text>
<text x="1367.3" y="17.6" text-anchor="middle" font-size="20.7">HPV-Negative TCGA HNSCC w/</text>
<text x="1149.4" y="41.9" font-size="20.6"><tspan font-style="italic">XRCC2/MAD2L2/RAD51/ALDH2</tspan> Deletion (n=52)</text>
<text x="1646.9" y="37" font-size="20.7">HPV−Negative TCGA HNSCC (n=415)</text>
<line x1="1630.3" y1="10.2" x2="1630.3" y2="642" stroke="#000" stroke-width="1.3"/>
<rect x="1197.34" y="61.4" width="820.45" height="25.6" fill="#c1c1c1"/>
<rect x="1200.59" y="64.1" width="32.08" height="20.2" fill="#ff7f00"/>
<rect x="1236.36" y="64.1" width="77.61" height="20.2" fill="#e31a1c"/>
<rect x="1317.22" y="64.1" width="68.72" height="20.2" fill="#000000"/>
<rect x="1389.62" y="64.1" width="167.57" height="20.2" fill="#33a02c"/>
<rect x="1560.45" y="64.1" width="32.08" height="20.2" fill="#6a3d9a"/>
<rect x="1596.22" y="64.1" width="32.08" height="20.2" fill="#1f78b4"/>
<rect x="1632.36" y="64.1" width="33.6" height="20.2" fill="#1f78b4"/>
<rect x="1669.43" y="64.1" width="13.44" height="20.2" fill="#6a3d9a"/>
<rect x="1685.68" y="64.1" width="5.42" height="20.2" fill="#ffff99"/>
<rect x="1695.87" y="64.1" width="158.25" height="20.2" fill="#33a02c"/>
<rect x="1857.37" y="64.1" width="75.44" height="20.2" fill="#000000"/>
<rect x="1936.06" y="64.1" width="48.12" height="20.2" fill="#e31a1c"/>
<rect x="1988.52" y="64.1" width="26.45" height="20.2" fill="#ff7f00"/>
<rect x="1629.7" y="61.7" width="1.2" height="25" fill="#d6d6d6"/>
<text x="1140.9" y="81.1" text-anchor="end" font-size="20.4" font-style="italic">TP53</text>
<text x="1196.88" y="81.1" text-anchor="end" font-size="20.6">92%</text>
<text x="2021.2" y="81.1" font-size="20.6">83%</text>
<rect x="1197.34" y="90.18" width="735.9" height="25.6" fill="#c1c1c1"/>
<rect x="1200.59" y="92.88" width="14.09" height="20.2" fill="#ff7f00"/>
<rect x="1218.59" y="92.88" width="5.42" height="20.2" fill="#e31a1c"/>
<rect x="1227.26" y="92.88" width="5.42" height="20.2" fill="#33a02c"/>
<rect x="1235.28" y="92.88" width="7.15" height="20.2" fill="#ffff99"/>
<rect x="1245.03" y="92.88" width="347.5" height="20.2" fill="#4169e1"/>
<rect x="1595.78" y="92.88" width="32.52" height="20.2" fill="#ffffff"/>
<rect x="1632.36" y="92.88" width="7.15" height="20.2" fill="#ffffff"/>
<rect x="1642.33" y="92.88" width="176.46" height="20.2" fill="#4169e1"/>
<rect x="1822.04" y="92.88" width="8.24" height="20.2" fill="#1f78b4"/>
<rect x="1833.53" y="92.88" width="1.52" height="20.2" fill="#6a3d9a"/>
<rect x="1841.55" y="92.88" width="13.22" height="20.2" fill="#33a02c"/>
<rect x="1858.02" y="92.88" width="2.6" height="20.2" fill="#000000"/>
<rect x="1863.88" y="92.88" width="54.19" height="20.2" fill="#e31a1c"/>
<rect x="1921.76" y="92.88" width="8.67" height="20.2" fill="#ff7f00"/>
<rect x="1629.7" y="90.48" width="1.2" height="25" fill="#d6d6d6"/>
<text x="1146.5" y="109.88" text-anchor="end" font-size="20.4" font-style="italic">CDKN2A</text>
<text x="1196.88" y="109.88" text-anchor="end" font-size="20.6">92%</text>
<text x="1937.69" y="109.88" font-size="20.6">65%</text>
<rect x="1260.64" y="118.96" width="484.44" height="25.6" fill="#c1c1c1"/>
<rect x="1263.46" y="121.66" width="5.42" height="20.2" fill="#000000"/>
<rect x="1272.13" y="121.66" width="23.85" height="20.2" fill="#33a02c"/>
<rect x="1299.23" y="121.66" width="320.18" height="20.2" fill="#4169e1"/>
<rect x="1622.23" y="121.66" width="6.07" height="20.2" fill="#ffffff"/>
<rect x="1634.74" y="121.66" width="85.41" height="20.2" fill="#4169e1"/>
<rect x="1724.05" y="121.66" width="15.82" height="20.2" fill="#33a02c"/>
<rect x="1629.7" y="119.26" width="1.2" height="25" fill="#d6d6d6"/>
<text x="1143" y="138.66" text-anchor="end" font-size="20.4" font-style="italic">PTPRD</text>
<text x="1261.38" y="138.66" text-anchor="end" font-size="20.6">79%</text>
<text x="1748.35" y="138.66" font-size="20.6">24%</text>
<rect x="1341.5" y="147.74" width="360.88" height="25.6" fill="#c1c1c1"/>
<rect x="1344.1" y="150.44" width="5.64" height="20.2" fill="#ff7f00"/>
<rect x="1353.42" y="150.44" width="23.2" height="20.2" fill="#33a02c"/>
<rect x="1379.87" y="150.44" width="221.76" height="20.2" fill="#4169e1"/>
<rect x="1604.45" y="150.44" width="23.85" height="20.2" fill="#ffffff"/>
<rect x="1635.61" y="150.44" width="24.5" height="20.2" fill="#4169e1"/>
<rect x="1666.61" y="150.44" width="21.68" height="20.2" fill="#33a02c"/>
<rect x="1693.7" y="150.44" width="1.3" height="20.2" fill="#e31a1c"/>
<rect x="1697.61" y="150.44" width="2.6" height="20.2" fill="#ff7f00"/>
<rect x="1629.7" y="148.04" width="1.2" height="25" fill="#d6d6d6"/>
<text x="1142" y="167.44" text-anchor="end" font-size="20.4" font-style="italic">KMT2C</text>
<text x="1338.94" y="167.44" text-anchor="end" font-size="20.6">62%</text>
<text x="1705.81" y="167.44" font-size="20.6">15%</text>
<rect x="1350.17" y="176.52" width="464.93" height="25.6" fill="#c1c1c1"/>
<rect x="1352.99" y="179.22" width="14.74" height="20.2" fill="#33a02c"/>
<rect x="1370.77" y="179.22" width="42.27" height="20.2" fill="#ffffff"/>
<rect x="1416.29" y="179.22" width="212.01" height="20.2" fill="#ee82ee"/>
<rect x="1632.36" y="179.22" width="104.7" height="20.2" fill="#ee82ee"/>
<rect x="1739.88" y="179.22" width="24.28" height="20.2" fill="#ffffff"/>
<rect x="1768.06" y="179.22" width="44.22" height="20.2" fill="#33a02c"/>
<rect x="1629.7" y="176.82" width="1.2" height="25" fill="#d6d6d6"/>
<text x="1143" y="196.22" text-anchor="end" font-size="20.4" font-style="italic">PIK3CA</text>
<text x="1348.31" y="196.22" text-anchor="end" font-size="20.6">60%</text>
<text x="1819.43" y="196.22" font-size="20.6">40%</text>
<rect x="1368.16" y="205.3" width="355.24" height="25.6" fill="#c1c1c1"/>
<rect x="1371.2" y="208" width="4.99" height="20.2" fill="#e31a1c"/>
<rect x="1379.87" y="208" width="23.41" height="20.2" fill="#000000"/>
<rect x="1406.97" y="208" width="14.74" height="20.2" fill="#33a02c"/>
<rect x="1424.96" y="208" width="131.8" height="20.2" fill="#4169e1"/>
<rect x="1559.8" y="208" width="68.5" height="20.2" fill="#ffffff"/>
<rect x="1632.36" y="208" width="9.32" height="20.2" fill="#ffffff"/>
<rect x="1644.5" y="208" width="30.13" height="20.2" fill="#4169e1"/>
<rect x="1678.1" y="208" width="2.17" height="20.2" fill="#1f78b4"/>
<rect x="1684.6" y="208" width="8.45" height="20.2" fill="#33a02c"/>
<rect x="1696.31" y="208" width="9.97" height="20.2" fill="#000000"/>
<rect x="1709.96" y="208" width="10.84" height="20.2" fill="#e31a1c"/>
<rect x="1629.7" y="205.6" width="1.2" height="25" fill="#d6d6d6"/>
<text x="1139" y="225" text-anchor="end" font-size="20.4" font-style="italic">NSD1</text>
<text x="1367.6" y="225" text-anchor="end" font-size="20.6">56%</text>
<text x="1726.67" y="225" font-size="20.6">20%</text>
<rect x="1395.69" y="234.08" width="371.71" height="25.6" fill="#c1c1c1"/>
<rect x="1398.3" y="236.78" width="5.42" height="20.2" fill="#e31a1c"/>
<rect x="1406.97" y="236.78" width="32.73" height="20.2" fill="#33a02c"/>
<rect x="1442.95" y="236.78" width="176.46" height="20.2" fill="#4169e1"/>
<rect x="1622.23" y="236.78" width="6.07" height="20.2" fill="#ffffff"/>
<rect x="1632.36" y="236.78" width="3.9" height="20.2" fill="#ffffff"/>
<rect x="1639.51" y="236.78" width="99.28" height="20.2" fill="#4169e1"/>
<rect x="1742.48" y="236.78" width="16.91" height="20.2" fill="#33a02c"/>
<rect x="1763.07" y="236.78" width="1.52" height="20.2" fill="#e31a1c"/>
<rect x="1629.7" y="234.38" width="1.2" height="25" fill="#d6d6d6"/>
<text x="1141.5" y="253.78" text-anchor="end" font-size="20.4" font-style="italic">CSMD1</text>
<text x="1391.03" y="253.78" text-anchor="end" font-size="20.6">50%</text>
<text x="1771.78" y="253.78" font-size="20.6">29%</text>
<rect x="1404.8" y="262.86" width="392.31" height="25.6" fill="#c1c1c1"/>
<rect x="1407.18" y="265.56" width="5.42" height="20.2" fill="#e31a1c"/>
<rect x="1416.29" y="265.56" width="23.2" height="20.2" fill="#000000"/>
<rect x="1442.95" y="265.56" width="5.42" height="20.2" fill="#33a02c"/>
<rect x="1452.06" y="265.56" width="6.07" height="20.2" fill="#ffff99"/>
<rect x="1461.16" y="265.56" width="5.42" height="20.2" fill="#6a3d9a"/>
<rect x="1470.05" y="265.56" width="14.52" height="20.2" fill="#1f78b4"/>
<rect x="1487.83" y="265.56" width="77.61" height="20.2" fill="#4169e1"/>
<rect x="1568.68" y="265.56" width="59.61" height="20.2" fill="#ffffff"/>
<rect x="1632.36" y="265.56" width="9.32" height="20.2" fill="#ffffff"/>
<rect x="1645.58" y="265.56" width="40.1" height="20.2" fill="#4169e1"/>
<rect x="1689.8" y="265.56" width="8.24" height="20.2" fill="#1f78b4"/>
<rect x="1701.94" y="265.56" width="13.01" height="20.2" fill="#6a3d9a"/>
<rect x="1719.72" y="265.56" width="13.44" height="20.2" fill="#33a02c"/>
<rect x="1736.63" y="265.56" width="20.38" height="20.2" fill="#000000"/>
<rect x="1760.47" y="265.56" width="31.87" height="20.2" fill="#e31a1c"/>
<rect x="1629.7" y="263.16" width="1.2" height="25" fill="#d6d6d6"/>
<text x="1139" y="282.56" text-anchor="end" font-size="20.4" font-style="italic">FAT1</text>
<text x="1404.04" y="282.56" text-anchor="end" font-size="20.6">48%</text>
<text x="1799.83" y="282.56" font-size="20.6">35%</text>
<rect x="1404.8" y="291.64" width="279.58" height="25.6" fill="#c1c1c1"/>
<rect x="1407.18" y="294.34" width="221.11" height="20.2" fill="#4169e1"/>
<rect x="1632.36" y="294.34" width="48.34" height="20.2" fill="#4169e1"/>
<rect x="1629.7" y="291.94" width="1.2" height="25" fill="#d6d6d6"/>
<text x="1139" y="311.34" text-anchor="end" font-size="20.4" font-style="italic">MXD4</text>
<text x="1404.04" y="311.34" text-anchor="end" font-size="20.6">48%</text>
<text x="1688.92" y="311.34" font-size="20.6">11%</text>
<rect x="1413.69" y="320.42" width="276.12" height="25.6" fill="#c1c1c1"/>
<rect x="1416.29" y="323.12" width="5.42" height="20.2" fill="#33a02c"/>
<rect x="1424.96" y="323.12" width="203.34" height="20.2" fill="#4169e1"/>
<rect x="1632.36" y="323.12" width="48.34" height="20.2" fill="#4169e1"/>
<rect x="1683.95" y="323.12" width="2.82" height="20.2" fill="#33a02c"/>
<rect x="1629.7" y="320.72" width="1.2" height="25" fill="#d6d6d6"/>
<text x="1139" y="340.12" text-anchor="end" font-size="20.4" font-style="italic">LATS2</text>
<text x="1410.13" y="340.12" text-anchor="end" font-size="20.6">46%</text>
<text x="1691.04" y="340.12" font-size="20.6">13%</text>
<rect x="1422.79" y="349.2" width="358.71" height="25.6" fill="#c1c1c1"/>
<rect x="1425.39" y="351.9" width="5.42" height="20.2" fill="#000000"/>
<rect x="1434.06" y="351.9" width="194.23" height="20.2" fill="#ee82ee"/>
<rect x="1632.36" y="351.9" width="143.72" height="20.2" fill="#ee82ee"/>
<rect x="1629.7" y="349.5" width="1.2" height="25" fill="#d6d6d6"/>
<text x="1140.8" y="368.9" text-anchor="end" font-size="20.4" font-style="italic">CCND1</text>
<text x="1421.83" y="368.9" text-anchor="end" font-size="20.6">44%</text>
<text x="1785.02" y="368.9" font-size="20.6">32%</text>
<rect x="1449.89" y="377.98" width="204.14" height="25.6" fill="#c1c1c1"/>
<rect x="1452.49" y="380.68" width="175.81" height="20.2" fill="#4169e1"/>
<rect x="1632.36" y="380.68" width="18.64" height="20.2" fill="#4169e1"/>
<rect x="1629.7" y="378.28" width="1.2" height="25" fill="#d6d6d6"/>
<text x="1138.4" y="397.68" text-anchor="end" font-size="20.4" font-style="italic">SDHB</text>
<text x="1449.13" y="397.68" text-anchor="end" font-size="20.6">38%</text>
<text x="1657.81" y="397.68" font-size="20.6">5%</text>
<rect x="1476.55" y="406.76" width="214.33" height="25.6" fill="#c1c1c1"/>
<rect x="1479.15" y="409.46" width="5.42" height="20.2" fill="#33a02c"/>
<rect x="1487.83" y="409.46" width="14.74" height="20.2" fill="#1f78b4"/>
<rect x="1505.82" y="409.46" width="122.48" height="20.2" fill="#4169e1"/>
<rect x="1632.36" y="409.46" width="30.57" height="20.2" fill="#4169e1"/>
<rect x="1666.61" y="409.46" width="5.42" height="20.2" fill="#1f78b4"/>
<rect x="1675.93" y="409.46" width="8.02" height="20.2" fill="#33a02c"/>
<rect x="1629.7" y="407.06" width="1.2" height="25" fill="#d6d6d6"/>
<text x="1145.5" y="426.46" text-anchor="end" font-size="20.4" font-style="italic">NOTCH2</text>
<text x="1475.59" y="426.46" text-anchor="end" font-size="20.6">33%</text>
<text x="1695.42" y="426.46" font-size="20.6">13%</text>
<rect x="1476.55" y="435.54" width="282.19" height="25.6" fill="#c1c1c1"/>
<rect x="1479.15" y="438.24" width="14.74" height="20.2" fill="#ffffff"/>
<rect x="1496.5" y="438.24" width="131.8" height="20.2" fill="#ee82ee"/>
<rect x="1632.36" y="438.24" width="120.31" height="20.2" fill="#ee82ee"/>
<rect x="1629.7" y="435.84" width="1.2" height="25" fill="#d6d6d6"/>
<text x="1136" y="455.24" text-anchor="end" font-size="20.4" font-style="italic">MYC</text>
<text x="1476.59" y="455.24" text-anchor="end" font-size="20.6">33%</text>
<text x="1765.31" y="455.24" font-size="20.6">27%</text>
<rect x="1521.43" y="464.32" width="214.55" height="25.6" fill="#c1c1c1"/>
<rect x="1524.24" y="467.02" width="5.42" height="20.2" fill="#ff7f00"/>
<rect x="1533.35" y="467.02" width="4.77" height="20.2" fill="#e31a1c"/>
<rect x="1542.02" y="467.02" width="5.42" height="20.2" fill="#000000"/>
<rect x="1551.13" y="467.02" width="23.41" height="20.2" fill="#33a02c"/>
<rect x="1578.22" y="467.02" width="14.31" height="20.2" fill="#1f78b4"/>
<rect x="1596.22" y="467.02" width="32.08" height="20.2" fill="#4169e1"/>
<rect x="1634.74" y="467.02" width="9.1" height="20.2" fill="#4169e1"/>
<rect x="1647.75" y="467.02" width="8.67" height="20.2" fill="#1f78b4"/>
<rect x="1664.44" y="467.02" width="41.62" height="20.2" fill="#33a02c"/>
<rect x="1709.53" y="467.02" width="4.34" height="20.2" fill="#000000"/>
<rect x="1717.55" y="467.02" width="13.01" height="20.2" fill="#e31a1c"/>
<rect x="1629.7" y="464.62" width="1.2" height="25" fill="#d6d6d6"/>
<text x="1142.4" y="484.02" text-anchor="end" font-size="20.4" font-style="italic">NOTCH1</text>
<text x="1520.67" y="484.02" text-anchor="end" font-size="20.6">23%</text>
<text x="1741.45" y="484.02" font-size="20.6">23%</text>
<rect x="1530.75" y="493.1" width="139.76" height="25.6" fill="#c1c1c1"/>
<rect x="1533.35" y="495.8" width="4.99" height="20.2" fill="#33a02c"/>
<rect x="1542.02" y="495.8" width="5.42" height="20.2" fill="#1f78b4"/>
<rect x="1550.69" y="495.8" width="77.61" height="20.2" fill="#4169e1"/>
<rect x="1632.36" y="495.8" width="24.5" height="20.2" fill="#4169e1"/>
<rect x="1661.19" y="495.8" width="4.99" height="20.2" fill="#33a02c"/>
<rect x="1629.7" y="493.4" width="1.2" height="25" fill="#d6d6d6"/>
<text x="1137.7" y="512.8" text-anchor="end" font-size="20.4" font-style="italic">DIP2C</text>
<text x="1530.39" y="512.8" text-anchor="end" font-size="20.6">21%</text>
<text x="1675.92" y="512.8" font-size="20.6">8%</text>
<rect x="1530.75" y="521.88" width="162.52" height="25.6" fill="#c1c1c1"/>
<rect x="1533.35" y="524.58" width="5.42" height="20.2" fill="#33a02c"/>
<rect x="1541.59" y="524.58" width="86.71" height="20.2" fill="#ee82ee"/>
<rect x="1632.36" y="524.58" width="54.41" height="20.2" fill="#ee82ee"/>
<rect x="1629.7" y="522.18" width="1.2" height="25" fill="#d6d6d6"/>
<text x="1136.6" y="541.58" text-anchor="end" font-size="20.4" font-style="italic">TGIF1</text>
<text x="1530.39" y="541.58" text-anchor="end" font-size="20.6">21%</text>
<text x="1696.91" y="541.58" font-size="20.6">13%</text>
<rect x="1539.42" y="550.66" width="114.18" height="25.6" fill="#c1c1c1"/>
<rect x="1542.02" y="553.36" width="32.52" height="20.2" fill="#33a02c"/>
<rect x="1578.22" y="553.36" width="50.08" height="20.2" fill="#4169e1"/>
<rect x="1632.36" y="553.36" width="2.82" height="20.2" fill="#4169e1"/>
<rect x="1638.43" y="553.36" width="8.02" height="20.2" fill="#33a02c"/>
<rect x="1629.7" y="550.96" width="1.2" height="25" fill="#d6d6d6"/>
<text x="1139.6" y="570.36" text-anchor="end" font-size="20.4" font-style="italic">NCOR2</text>
<text x="1539.46" y="570.36" text-anchor="end" font-size="20.6">19%</text>
<text x="1657.78" y="570.36" font-size="20.6">5%</text>
<rect x="1557.63" y="579.44" width="99.22" height="25.6" fill="#c1c1c1"/>
<rect x="1560.45" y="582.14" width="4.99" height="20.2" fill="#33a02c"/>
<rect x="1569.12" y="582.14" width="50.29" height="20.2" fill="#4169e1"/>
<rect x="1622.66" y="582.14" width="5.64" height="20.2" fill="#ffffff"/>
<rect x="1635.61" y="582.14" width="12.14" height="20.2" fill="#4169e1"/>
<rect x="1629.7" y="579.74" width="1.2" height="25" fill="#d6d6d6"/>
<text x="1136" y="599.14" text-anchor="end" font-size="20.4" font-style="italic">PTEN</text>
<text x="1556.87" y="599.14" text-anchor="end" font-size="20.6">15%</text>
<text x="1662.3" y="599.14" font-size="20.6">6%</text>
<rect x="1557.63" y="608.22" width="158.4" height="25.6" fill="#c1c1c1"/>
<rect x="1560.45" y="610.92" width="4.99" height="20.2" fill="#ffffff"/>
<rect x="1568.68" y="610.92" width="59.61" height="20.2" fill="#ee82ee"/>
<rect x="1632.36" y="610.92" width="63.52" height="20.2" fill="#ee82ee"/>
<rect x="1698.47" y="610.92" width="4.34" height="20.2" fill="#ffffff"/>
<rect x="1706.28" y="610.92" width="5.42" height="20.2" fill="#33a02c"/>
<rect x="1629.7" y="608.52" width="1.2" height="25" fill="#d6d6d6"/>
<text x="1137.7" y="627.92" text-anchor="end" font-size="20.4" font-style="italic">EGFR</text>
<text x="1556.87" y="627.92" text-anchor="end" font-size="20.6">15%</text>
<text x="1721.47" y="627.92" font-size="20.6">18%</text>
<line x1="1162.2" y1="642.2" x2="2098" y2="642.2" stroke="#000" stroke-width="1.2"/>
<line x1="1162.3" y1="641" x2="1162.3" y2="652.2" stroke="#000" stroke-width="2.4"/>
<line x1="1255.9" y1="641" x2="1255.9" y2="652.2" stroke="#000" stroke-width="2.4"/>
<line x1="1349.5" y1="641" x2="1349.5" y2="652.2" stroke="#000" stroke-width="2.4"/>
<line x1="1443.1" y1="641" x2="1443.1" y2="652.2" stroke="#000" stroke-width="2.4"/>
<line x1="1536.7" y1="641" x2="1536.7" y2="652.2" stroke="#000" stroke-width="2.4"/>
<line x1="1630.3" y1="641" x2="1630.3" y2="652.2" stroke="#000" stroke-width="2.4"/>
<line x1="1723.9" y1="641" x2="1723.9" y2="652.2" stroke="#000" stroke-width="2.4"/>
<line x1="1817.5" y1="641" x2="1817.5" y2="652.2" stroke="#000" stroke-width="2.4"/>
<line x1="1911.1" y1="641" x2="1911.1" y2="652.2" stroke="#000" stroke-width="2.4"/>
<line x1="2004.7" y1="641" x2="2004.7" y2="652.2" stroke="#000" stroke-width="2.4"/>
<line x1="2098.3" y1="641" x2="2098.3" y2="652.2" stroke="#000" stroke-width="2.4"/>
<text x="1167.4" y="679.3" text-anchor="middle" font-size="23.2">100%</text>
<text x="1261.4" y="679.3" text-anchor="middle" font-size="23.2">80%</text>
<text x="1355" y="679.3" text-anchor="middle" font-size="23.2">60%</text>
<text x="1447.2" y="679.3" text-anchor="middle" font-size="23.2">40%</text>
<text x="1541.5" y="678.4" text-anchor="middle" font-size="20.4">20%</text>
<text x="1632.3" y="678.4" text-anchor="middle" font-size="20.4">0%</text>
<text x="1726" y="678.4" text-anchor="middle" font-size="20.4">20%</text>
<text x="1821.3" y="679.3" text-anchor="middle" font-size="23.2">40%</text>
<text x="1915.4" y="679.3" text-anchor="middle" font-size="23.2">60%</text>
<text x="2012.7" y="679.3" text-anchor="middle" font-size="23.2">80%</text>
<text x="2082.2" y="679.3" text-anchor="middle" font-size="23.2">100%</text>
<rect x="1909.3" y="219.6" width="211.4" height="404.8" rx="36" ry="36" fill="#fff" stroke="#222" stroke-width="1.5"/>
<rect x="1922.6" y="243.5" width="13.2" height="13.2" fill="#3aa04a" stroke="#1d6b2a" stroke-width="1"/>
<text x="1955" y="257" font-size="24.5">Missense</text>
<rect x="1922.6" y="282" width="13.2" height="13.2" fill="#e31a24" stroke="#9a1218" stroke-width="1"/>
<text x="1955" y="295.5" font-size="24.5">Nonsense</text>
<rect x="1922.6" y="319.5" width="13.2" height="13.2" fill="#fdf59a" stroke="#8a8550" stroke-width="1"/>
<text x="1955" y="333" font-size="24.5">In-Frame Del</text>
<rect x="1922.6" y="356.8" width="13.2" height="13.2" fill="#f58425" stroke="#9a5212" stroke-width="1"/>
<text x="1955" y="370.3" font-size="24.5">Splice Site</text>
<rect x="1922.6" y="394.7" width="13.2" height="13.2" fill="#1f78b8" stroke="#174e75" stroke-width="1"/>
<text x="1955" y="408.2" font-size="24.5">Frameshift Del</text>
<rect x="1922.6" y="432" width="13.2" height="13.2" fill="#6a3da0" stroke="#40245f" stroke-width="1"/>
<text x="1955" y="445.5" font-size="24.5">Frameshift Ins</text>
<rect x="1922.6" y="469" width="13.2" height="13.2" fill="#4a72c4" stroke="#2c4780" stroke-width="1"/>
<text x="1955" y="482.5" font-size="24.5">Deletion</text>
<rect x="1922.6" y="505.2" width="13.2" height="13.2" fill="#da8fd0" stroke="#8a5585" stroke-width="1"/>
<text x="1955" y="518.7" font-size="24.5">Amplification</text>
<rect x="1923.2" y="537.4" width="12.4" height="12.4" fill="#fff" stroke="#111" stroke-width="2.4"/>
<text x="1955" y="552" font-size="24.5">SNV + CNV</text>
<rect x="1922" y="571.5" width="14.5" height="13.5" fill="#000"/>
<text x="1955" y="586" font-size="24.5">Multi-SNV</text>
<text x="21.5" y="889.6" font-size="32" font-weight="bold">c</text>
<line x1="49.5" y1="868.6" x2="56" y2="868.6" stroke="#dcdcdc" stroke-width="1.2"/>
<line x1="357.5" y1="868.8" x2="364" y2="868.8" stroke="#dcdcdc" stroke-width="1.2"/>
<line x1="97.4" y1="947.6" x2="97.4" y2="1473.8" stroke="#222" stroke-width="1.1"/>
<line x1="88.4" y1="1473.8" x2="97.4" y2="1473.8" stroke="#222" stroke-width="1.1"/>
<text x="83.2" y="1482.19" text-anchor="end" font-size="23.3">0</text>
<line x1="88.4" y1="1398.7" x2="97.4" y2="1398.7" stroke="#222" stroke-width="1.1"/>
<text x="83.2" y="1407.09" text-anchor="end" font-size="23.3">5</text>
<line x1="88.4" y1="1323.6" x2="97.4" y2="1323.6" stroke="#222" stroke-width="1.1"/>
<text x="83.2" y="1331.99" text-anchor="end" font-size="23.3">10</text>
<line x1="88.4" y1="1248.5" x2="97.4" y2="1248.5" stroke="#222" stroke-width="1.1"/>
<text x="83.2" y="1256.89" text-anchor="end" font-size="23.3">15</text>
<line x1="88.4" y1="1173.4" x2="97.4" y2="1173.4" stroke="#222" stroke-width="1.1"/>
<text x="83.2" y="1181.79" text-anchor="end" font-size="23.3">20</text>
<line x1="88.4" y1="1098.3" x2="97.4" y2="1098.3" stroke="#222" stroke-width="1.1"/>
<text x="83.2" y="1106.69" text-anchor="end" font-size="23.3">25</text>
<line x1="88.4" y1="1023.2" x2="97.4" y2="1023.2" stroke="#222" stroke-width="1.1"/>
<text x="83.2" y="1031.59" text-anchor="end" font-size="23.3">30</text>
<line x1="88.4" y1="948.1" x2="97.4" y2="948.1" stroke="#222" stroke-width="1.1"/>
<text x="83.2" y="956.49" text-anchor="end" font-size="23.3">35</text>
<line x1="92.4" y1="1436.25" x2="97.4" y2="1436.25" stroke="#222" stroke-width="1.1"/>
<line x1="92.4" y1="1361.15" x2="97.4" y2="1361.15" stroke="#222" stroke-width="1.1"/>
<line x1="92.4" y1="1286.05" x2="97.4" y2="1286.05" stroke="#222" stroke-width="1.1"/>
<line x1="92.4" y1="1210.95" x2="97.4" y2="1210.95" stroke="#222" stroke-width="1.1"/>
<line x1="92.4" y1="1135.85" x2="97.4" y2="1135.85" stroke="#222" stroke-width="1.1"/>
<line x1="92.4" y1="1060.75" x2="97.4" y2="1060.75" stroke="#222" stroke-width="1.1"/>
<line x1="92.4" y1="985.65" x2="97.4" y2="985.65" stroke="#222" stroke-width="1.1"/>
<line x1="88.5" y1="1473.8" x2="256.5" y2="1473.8" stroke="#222" stroke-width="1.2"/>
<line x1="114.1" y1="1473.8" x2="114.1" y2="1482" stroke="#222" stroke-width="1.2"/>
<line x1="139.2" y1="1473.8" x2="139.2" y2="1482" stroke="#222" stroke-width="1.2"/>
<line x1="164.4" y1="1473.8" x2="164.4" y2="1482" stroke="#222" stroke-width="1.2"/>
<line x1="189.3" y1="1473.8" x2="189.3" y2="1482" stroke="#222" stroke-width="1.2"/>
<line x1="214.4" y1="1473.8" x2="214.4" y2="1482" stroke="#222" stroke-width="1.2"/>
<line x1="239.6" y1="1473.8" x2="239.6" y2="1482" stroke="#222" stroke-width="1.2"/>
<text text-anchor="end" font-size="23.4" transform="translate(117.7 1494.7) rotate(-45)">0</text>
<text text-anchor="end" font-size="23.4" transform="translate(146.8 1499.4) rotate(-45)">&gt;1</text>
<text text-anchor="end" font-size="23.4" transform="translate(172 1499.4) rotate(-45)">&gt;2</text>
<text text-anchor="end" font-size="23.4" transform="translate(196.9 1499.4) rotate(-45)">&gt;3</text>
<text text-anchor="end" font-size="23.4" transform="translate(222 1499.4) rotate(-45)">&gt;4</text>
<text text-anchor="end" font-size="23.4" transform="translate(247.2 1499.4) rotate(-45)">&gt;8</text>
<text x="177.5" y="1545.2" text-anchor="middle" font-size="23.3">Smoking exposure</text>
<text x="176.3" y="1574.4" text-anchor="middle" font-size="23.3">(pack-years)</text>
<text text-anchor="middle" font-size="23.1" transform="translate(45.6 1211.3) rotate(-90)">Number of CNAs</text>
<text x="180.8" y="861.6" text-anchor="middle" font-size="23.4">p=0.0331</text>
<path d="M113.2 882V868H248.6V882" stroke="#333" stroke-width="1.1" fill="none"/>
<text x="166.8" y="899.6" text-anchor="middle" font-size="23.4">p=0.0211</text>
<path d="M113.2 920V906.7H220.6V920" stroke="#333" stroke-width="1.1" fill="none"/>
<text x="155" y="926.9" text-anchor="middle" font-size="23.4">ns</text>
<line x1="113" y1="932" x2="194.3" y2="932" stroke="#333" stroke-width="1.1"/>
<line x1="113" y1="941.6" x2="167.7" y2="941.6" stroke="#333" stroke-width="1.1"/>
<line x1="113" y1="952.7" x2="141.2" y2="952.7" stroke="#555" stroke-width="1.1"/>
<path d="M108.35 1473.8h11.5M108.35 1458.78h11.5M109.6 1443.76h9M111.1 1428.74h6M112.5 1413.72h3.2M112.5 1398.7h3.2M112.5 1383.68h3.2M112.5 1368.66h3.2M112.5 1353.64h3.2M113 1338.62h2.2M113 1323.6h2.2M113 1308.58h2.2M113 1293.56h2.2M113.6 1278.54h1M113.6 1263.52h1M114.1 1248.5h0.01M114.1 1233.48h0.01M114.1 1218.46h0.01M114.1 1203.44h0.01M114.1 1188.42h0.01M114.1 1173.4h0.01M114.1 1143.36h0.01M114.1 1128.34h0.01M114.1 1098.3h0.01M114.1 963.12h0.01M133.45 1473.8h11.5M133.45 1458.78h11.5M134.7 1443.76h9M136.2 1428.74h6M137.6 1413.72h3.2M137.6 1398.7h3.2M137.6 1383.68h3.2M137.6 1368.66h3.2M137.6 1353.64h3.2M138.1 1338.62h2.2M138.1 1323.6h2.2M138.1 1308.58h2.2M138.1 1293.56h2.2M138.7 1278.54h1M138.7 1263.52h1M139.2 1248.5h0.01M139.2 1233.48h0.01M139.2 1218.46h0.01M139.2 1203.44h0.01M139.2 1188.42h0.01M139.2 1173.4h0.01M139.2 1158.38h0.01M139.2 1143.36h0.01M139.2 1128.34h0.01M139.2 1068.26h0.01M139.2 1038.22h0.01M138.45 1023.2h1.5M158.65 1473.8h11.5M158.65 1458.78h11.5M159.9 1443.76h9M161.4 1428.74h6M162.8 1413.72h3.2M162.8 1398.7h3.2M162.8 1383.68h3.2M162.8 1368.66h3.2M162.8 1353.64h3.2M163.3 1338.62h2.2M163.3 1323.6h2.2M163.3 1308.58h2.2M163.3 1293.56h2.2M163.9 1278.54h1M163.9 1263.52h1M164.4 1248.5h0.01M164.4 1233.48h0.01M164.4 1218.46h0.01M164.4 1203.44h0.01M164.4 1173.4h0.01M164.4 1158.38h0.01M164.4 1143.36h0.01M164.4 1128.34h0.01M164.4 1068.26h0.01M164.4 1038.22h0.01M163.4 1023.2h2M183.55 1473.8h11.5M183.55 1458.78h11.5M184.8 1443.76h9M186.3 1428.74h6M187.7 1413.72h3.2M187.7 1398.7h3.2M187.7 1383.68h3.2M187.7 1368.66h3.2M187.7 1353.64h3.2M188.2 1338.62h2.2M188.2 1323.6h2.2M188.2 1308.58h2.2M188.2 1293.56h2.2M188.8 1278.54h1M188.8 1263.52h1M189.3 1248.5h0.01M189.3 1233.48h0.01M189.3 1218.46h0.01M189.3 1203.44h0.01M189.3 1173.4h0.01M189.3 1158.38h0.01M189.3 1143.36h0.01M189.3 1128.34h0.01M189.3 1068.26h0.01M189.3 1038.22h0.01M188.3 1023.2h2M208.65 1473.8h11.5M208.65 1458.78h11.5M209.9 1443.76h9M211.4 1428.74h6M212.8 1413.72h3.2M212.8 1398.7h3.2M212.8 1383.68h3.2M212.8 1368.66h3.2M212.8 1353.64h3.2M213.3 1338.62h2.2M213.3 1323.6h2.2M213.3 1308.58h2.2M213.3 1293.56h2.2M213.9 1278.54h1M213.9 1263.52h1M214.4 1248.5h0.01M214.4 1233.48h0.01M214.4 1218.46h0.01M214.4 1203.44h0.01M214.4 1173.4h0.01M214.4 1158.38h0.01M214.4 1143.36h0.01M214.4 1128.34h0.01M214.4 1068.26h0.01M214.4 1038.22h0.01M213.4 1023.2h2M239.6 1458.78h0.01M239.6 1443.76h0.01M239.6 1428.74h0.01M239.6 1413.72h0.01M239.6 1398.7h0.01M239.6 1383.68h0.01M239.6 1368.66h0.01M239.6 1353.64h0.01M239.6 1323.6h0.01M239.6 1308.58h0.01M239.6 1278.54h0.01M239.6 1248.5h0.01M239.6 1233.48h0.01M239.6 1203.44h0.01M239.6 1068.26h0.01M239.6 1038.22h0.01M239.6 1023.2h0.01M235.5 1473.8h0.01M244 1473.8h0.01" stroke="#000" stroke-width="4.9" stroke-linecap="round" fill="none"/>
<line x1="114.1" y1="1458.78" x2="114.1" y2="1323.6" stroke="#e8321c" stroke-width="2.6"/>
<line x1="108.9" y1="1458.78" x2="119.3" y2="1458.78" stroke="#e8321c" stroke-width="2.3"/>
<line x1="108.9" y1="1323.6" x2="119.3" y2="1323.6" stroke="#e8321c" stroke-width="2.3"/>
<line x1="105.9" y1="1398.7" x2="122.3" y2="1398.7" stroke="#e8321c" stroke-width="5"/>
<line x1="139.2" y1="1443.76" x2="139.2" y2="1293.56" stroke="#e8321c" stroke-width="2.6"/>
<line x1="134" y1="1443.76" x2="144.4" y2="1443.76" stroke="#e8321c" stroke-width="2.3"/>
<line x1="134" y1="1293.56" x2="144.4" y2="1293.56" stroke="#e8321c" stroke-width="2.3"/>
<line x1="131" y1="1383.68" x2="147.4" y2="1383.68" stroke="#e8321c" stroke-width="5"/>
<line x1="164.4" y1="1443.76" x2="164.4" y2="1278.54" stroke="#e8321c" stroke-width="2.6"/>
<line x1="159.2" y1="1443.76" x2="169.6" y2="1443.76" stroke="#e8321c" stroke-width="2.3"/>
<line x1="159.2" y1="1278.54" x2="169.6" y2="1278.54" stroke="#e8321c" stroke-width="2.3"/>
<line x1="156.2" y1="1383.68" x2="172.6" y2="1383.68" stroke="#e8321c" stroke-width="5"/>
<line x1="189.3" y1="1443.76" x2="189.3" y2="1263.52" stroke="#e8321c" stroke-width="2.6"/>
<line x1="184.1" y1="1443.76" x2="194.5" y2="1443.76" stroke="#e8321c" stroke-width="2.3"/>
<line x1="184.1" y1="1263.52" x2="194.5" y2="1263.52" stroke="#e8321c" stroke-width="2.3"/>
<line x1="181.1" y1="1368.66" x2="197.5" y2="1368.66" stroke="#e8321c" stroke-width="5"/>
<line x1="214.4" y1="1443.76" x2="214.4" y2="1248.5" stroke="#e8321c" stroke-width="2.6"/>
<line x1="209.2" y1="1443.76" x2="219.6" y2="1443.76" stroke="#e8321c" stroke-width="2.3"/>
<line x1="209.2" y1="1248.5" x2="219.6" y2="1248.5" stroke="#e8321c" stroke-width="2.3"/>
<line x1="206.2" y1="1346.13" x2="222.6" y2="1346.13" stroke="#e8321c" stroke-width="5"/>
<line x1="239.6" y1="1431.74" x2="239.6" y2="1213.95" stroke="#e8321c" stroke-width="2.6"/>
<line x1="234.4" y1="1431.74" x2="244.8" y2="1431.74" stroke="#e8321c" stroke-width="2.3"/>
<line x1="234.4" y1="1213.95" x2="244.8" y2="1213.95" stroke="#e8321c" stroke-width="2.3"/>
<line x1="231.4" y1="1331.11" x2="247.8" y2="1331.11" stroke="#e8321c" stroke-width="5"/>
<text x="285.8" y="895.2" font-size="32" font-weight="bold">d</text>
<text x="443.3" y="911" text-anchor="middle" font-size="23.3">HPV-Negative</text>
<text x="448.2" y="939.6" text-anchor="middle" font-size="23.3">Sporadic HNSCC</text>
<line x1="361.3" y1="968.4" x2="361.3" y2="1479.1" stroke="#222" stroke-width="1.1"/>
<line x1="350.8" y1="1479.1" x2="361.3" y2="1479.1" stroke="#222" stroke-width="1.1"/>
<text x="346.3" y="1487.49" text-anchor="end" font-size="23.3">0</text>
<line x1="350.8" y1="1351.55" x2="361.3" y2="1351.55" stroke="#222" stroke-width="1.1"/>
<text x="346.3" y="1359.94" text-anchor="end" font-size="23.3">10</text>
<line x1="350.8" y1="1224" x2="361.3" y2="1224" stroke="#222" stroke-width="1.1"/>
<text x="346.3" y="1232.39" text-anchor="end" font-size="23.3">20</text>
<line x1="350.8" y1="1096.45" x2="361.3" y2="1096.45" stroke="#222" stroke-width="1.1"/>
<text x="346.3" y="1104.84" text-anchor="end" font-size="23.3">30</text>
<line x1="350.8" y1="968.9" x2="361.3" y2="968.9" stroke="#222" stroke-width="1.1"/>
<text x="346.3" y="977.29" text-anchor="end" font-size="23.3">40</text>
<line x1="356.3" y1="1415.32" x2="361.3" y2="1415.32" stroke="#222" stroke-width="1.1"/>
<line x1="356.3" y1="1287.77" x2="361.3" y2="1287.77" stroke="#222" stroke-width="1.1"/>
<line x1="356.3" y1="1160.22" x2="361.3" y2="1160.22" stroke="#222" stroke-width="1.1"/>
<line x1="356.3" y1="1032.67" x2="361.3" y2="1032.67" stroke="#222" stroke-width="1.1"/>
<line x1="350.7" y1="1479.1" x2="490.2" y2="1479.1" stroke="#222" stroke-width="1.2"/>
<line x1="441.6" y1="1479.1" x2="441.6" y2="1489" stroke="#222" stroke-width="1.2"/>
<text text-anchor="middle" font-size="23.07" transform="translate(308.3 1205.7) rotate(-90)">Number of focal CNAs</text>
<path d="M405.3 1479.1h73M405.9 1466.34h71.8M409.4 1453.59h64.8M404.15 1440.83h75.3M428.65 1428.08h26.3M419.15 1415.32h45.3M422.65 1402.57h38.3M426.15 1389.81h31.3M426.15 1377.06h31.3M432.65 1364.3h18.3M441.8 1351.55h0.01M429.15 1338.79h25.3M434.15 1326.04h15.3M436.65 1313.28h10.3M439.45 1300.53h4.7M434.15 1287.77h15.3M441.8 1275.02h0.01M439.45 1262.26h4.7M437.15 1249.51h9.3M438.9 1236.75h5.8M436.15 1224h11.3M441.8 1211.24h0.01M437.65 1198.49h8.3M438.9 1185.73h5.8M441.8 1172.98h0.01M440.15 1160.22h3.3M440.65 1134.71h2.3M441.8 1121.96h0.01M441.8 1109.2h0.01M441.8 1096.45h0.01M441.8 1083.69h0.01M441.8 1045.43h0.01" stroke="#000" stroke-width="4.7" stroke-linecap="round" fill="none"/>
<line x1="441.5" y1="1453.59" x2="441.5" y2="1338.79" stroke="#e8321c" stroke-width="5.8"/>
<line x1="419.3" y1="1338.79" x2="463.8" y2="1338.79" stroke="#e8321c" stroke-width="5.5"/>
<line x1="419.3" y1="1453.59" x2="463.8" y2="1453.59" stroke="#e8321c" stroke-width="5.5"/>
<line x1="401" y1="1416.02" x2="481.4" y2="1416.02" stroke="#e8321c" stroke-width="6.3"/>
<path d="M491.2 1041.6H517.4V1335.8H491.2" stroke="#2f3491" stroke-width="3.6" fill="none"/>
<path d="M493.5 1452.8H515.2V1479.3H493.5" stroke="#d8393a" stroke-width="3.4" fill="none"/>
<text x="524.8" y="1166.2" font-size="23.6">Top quartile</text>
<text x="524.8" y="1195.45" font-size="23.6">CN-altered</text>
<text x="524.8" y="1224.7" font-size="23.6">samples</text>
<text x="524.8" y="1253.95" font-size="23.6">(n=104)</text>
<text x="527.2" y="1434" font-size="23.8">Bottom quartile</text>
<text x="527.2" y="1462.7" font-size="23.8">CN-altered</text>
<text x="527.2" y="1491.4" font-size="23.8">samples</text>
<text x="527.2" y="1520.1" font-size="23.8">(n=104)</text>
<text x="655.8" y="889.4" font-size="32" font-weight="bold">e</text>
<line x1="733.7" y1="959.5" x2="733.7" y2="1473.4" stroke="#222" stroke-width="1.1"/>
<line x1="723.2" y1="1473.4" x2="733.7" y2="1473.4" stroke="#222" stroke-width="1.1"/>
<text x="720.2" y="1481.79" text-anchor="end" font-size="23.3">0</text>
<line x1="723.2" y1="1345.05" x2="733.7" y2="1345.05" stroke="#222" stroke-width="1.1"/>
<text x="720.2" y="1353.44" text-anchor="end" font-size="23.3">5</text>
<line x1="723.2" y1="1216.7" x2="733.7" y2="1216.7" stroke="#222" stroke-width="1.1"/>
<text x="720.2" y="1225.09" text-anchor="end" font-size="23.3">10</text>
<line x1="723.2" y1="1088.35" x2="733.7" y2="1088.35" stroke="#222" stroke-width="1.1"/>
<text x="720.2" y="1096.74" text-anchor="end" font-size="23.3">15</text>
<line x1="723.2" y1="960" x2="733.7" y2="960" stroke="#222" stroke-width="1.1"/>
<text x="720.2" y="968.39" text-anchor="end" font-size="23.3">20</text>
<line x1="727.2" y1="1409.23" x2="733.7" y2="1409.23" stroke="#222" stroke-width="1.1"/>
<line x1="727.2" y1="1280.88" x2="733.7" y2="1280.88" stroke="#222" stroke-width="1.1"/>
<line x1="727.2" y1="1152.53" x2="733.7" y2="1152.53" stroke="#222" stroke-width="1.1"/>
<line x1="727.2" y1="1024.18" x2="733.7" y2="1024.18" stroke="#222" stroke-width="1.1"/>
<line x1="720.8" y1="1473.4" x2="893" y2="1473.4" stroke="#222" stroke-width="1.2"/>
<line x1="778.6" y1="1473.4" x2="778.6" y2="1485.6" stroke="#222" stroke-width="1.2"/>
<line x1="846.8" y1="1473.4" x2="846.8" y2="1485.6" stroke="#222" stroke-width="1.2"/>
<text x="776.4" y="1511.3" text-anchor="middle" font-size="23.4">bottom</text>
<text x="846.4" y="1511.3" text-anchor="middle" font-size="23.4">top</text>
<line x1="731.3" y1="1521.9" x2="874.1" y2="1521.9" stroke="#333" stroke-width="1.2"/>
<text x="804.5" y="1549.3" text-anchor="middle" font-size="23.5">CNA quartile</text>
<text text-anchor="middle" font-size="23.3" transform="translate(684.2 1198.5) rotate(-90)">Number of pack years</text>
<text x="814.1" y="934.9" text-anchor="middle" font-size="23.6">p=0.0306</text>
<path d="M772.3 955V941.5H847.2V955" stroke="#333" stroke-width="1.1" fill="none"/>
<path d="M778.61 1218.26h0.01M778.61 1230.44h0.01M778.61 1261.34h0.01M778.61 1269.54h0.01M772.29 1281.25h0.01M785.17 1283.59h0.01M778.61 1296.46h0.01M778.61 1305.36h0.01M778.61 1331.59h0.01M772.29 1366.94h0.01M759.41 1372.79h0.01M798.04 1372.09h0.01M778.61 1380.99h0.01M778.61 1405.57h0.01M764.8 1411.19h0.01M790.55 1411.19h0.01M774.16 1413.53h0.01M778.61 1432.26h0.01M759.41 1440.46h0.01M772.29 1446.31h0.01M785.17 1446.31h0.01M777.67 1456.85h0.01M764.8 1459.89h0.01M790.55 1461.53h0.01M772.29 1472.77h0.01M785.17 1472.77h0.01M840.19 1210.07h0.01M854.24 1211.24h0.01M847.21 1229.27h0.01M840.19 1248.7h0.01M854.24 1248.7h0.01M847.21 1283.59h0.01M832.69 1305.36h0.01M861.73 1305.36h0.01M847.21 1309.34h0.01M847.21 1331.59h0.01M832.69 1343.53h0.01M861.73 1347.51h0.01M847.21 1353.36h0.01M832.69 1361.55h0.01M847.21 1361.55h0.01M861.73 1361.55h0.01M847.21 1372.79h0.01M847.21 1418.22h0.01M841.36 1430.63h0.01M852.6 1430.63h0.01M847.21 1441.16h0.01M846.04 1468.09h0.01M847.2 1032.6h0.01M847.2 1122.2h0.01" stroke="#000" stroke-width="7.2" stroke-linecap="round" fill="none"/>
<line x1="778.8" y1="1445.8" x2="778.8" y2="1291.3" stroke="#e8321c" stroke-width="2.3"/>
<line x1="767.1" y1="1445.8" x2="790.5" y2="1445.8" stroke="#e8321c" stroke-width="2.2"/>
<line x1="767.1" y1="1291.3" x2="790.5" y2="1291.3" stroke="#e8321c" stroke-width="2.2"/>
<line x1="756.1" y1="1385" x2="801.5" y2="1385" stroke="#e8321c" stroke-width="5"/>
<line x1="847.3" y1="1369.7" x2="847.3" y2="1248.7" stroke="#e8321c" stroke-width="2.3"/>
<line x1="835.6" y1="1369.7" x2="859" y2="1369.7" stroke="#e8321c" stroke-width="2.2"/>
<line x1="835.6" y1="1248.7" x2="859" y2="1248.7" stroke="#e8321c" stroke-width="2.2"/>
<line x1="824.6" y1="1337" x2="870" y2="1337" stroke="#e8321c" stroke-width="5"/>
<text x="900" y="895.2" font-size="32" font-weight="bold">f</text>
<line x1="974.5" y1="956.4" x2="974.5" y2="1473.3" stroke="#222" stroke-width="1.1"/>
<line x1="966.2" y1="1473.3" x2="974.5" y2="1473.3" stroke="#222" stroke-width="1.1"/>
<text x="962" y="1481.6" text-anchor="end" font-size="23.3">0</text>
<line x1="969.7" y1="1431.2" x2="974.5" y2="1431.2" stroke="#222" stroke-width="1.1"/>
<line x1="966.2" y1="1389.1" x2="974.5" y2="1389.1" stroke="#222" stroke-width="1.1"/>
<text x="962" y="1397.4" text-anchor="end" font-size="23.3">10</text>
<line x1="969.7" y1="1347" x2="974.5" y2="1347" stroke="#222" stroke-width="1.1"/>
<line x1="966.2" y1="1304.9" x2="974.5" y2="1304.9" stroke="#222" stroke-width="1.1"/>
<text x="962" y="1313.2" text-anchor="end" font-size="23.3">20</text>
<line x1="969.7" y1="1262.8" x2="974.5" y2="1262.8" stroke="#222" stroke-width="1.1"/>
<line x1="966.2" y1="1220.5" x2="974.5" y2="1220.5" stroke="#222" stroke-width="1.1"/>
<text x="962" y="1228.8" text-anchor="end" font-size="23.3">30</text>
<line x1="969.7" y1="1177.8" x2="974.5" y2="1177.8" stroke="#222" stroke-width="1.1"/>
<line x1="966.2" y1="1135.9" x2="974.5" y2="1135.9" stroke="#222" stroke-width="1.1"/>
<text x="962" y="1144.2" text-anchor="end" font-size="23.3">40</text>
<line x1="969.7" y1="1093.9" x2="974.5" y2="1093.9" stroke="#222" stroke-width="1.1"/>
<line x1="966.2" y1="1051.8" x2="974.5" y2="1051.8" stroke="#222" stroke-width="1.1"/>
<text x="962" y="1060.1" text-anchor="end" font-size="23.3">50</text>
<line x1="969.7" y1="1009.5" x2="974.5" y2="1009.5" stroke="#222" stroke-width="1.1"/>
<line x1="966.2" y1="956.9" x2="974.5" y2="956.9" stroke="#222" stroke-width="1.1"/>
<text x="962" y="965.2" text-anchor="end" font-size="23.3">60</text>
<line x1="966" y1="1473.3" x2="1303.4" y2="1473.3" stroke="#333" stroke-width="1.3"/>
<line x1="1011.7" y1="1473.3" x2="1011.7" y2="1481.2" stroke="#333" stroke-width="1.2"/>
<line x1="1098.3" y1="1473.3" x2="1098.3" y2="1481.2" stroke="#333" stroke-width="1.2"/>
<line x1="1185" y1="1473.3" x2="1185" y2="1481.2" stroke="#333" stroke-width="1.2"/>
<line x1="1271.6" y1="1473.3" x2="1271.6" y2="1481.2" stroke="#333" stroke-width="1.2"/>
<rect x="986" y="1046.9" width="19.9" height="426.4" fill="#3b7db5"/>
<rect x="1018.7" y="1240.5" width="19.2" height="232.8" fill="#f0693a"/>
<rect x="1072.6" y="1197.1" width="19.8" height="276.2" fill="#3b7db5"/>
<rect x="1105.4" y="1396.6" width="19.2" height="76.7" fill="#f0693a"/>
<rect x="1159.2" y="1248.7" width="19.9" height="224.6" fill="#3b7db5"/>
<rect x="1191.5" y="1396.2" width="19.7" height="77.1" fill="#f0693a"/>
<rect x="1245.3" y="1294.3" width="19.9" height="179" fill="#3b7db5"/>
<rect x="1278.1" y="1389.1" width="19.7" height="84.2" fill="#f0693a"/>
<text x="1011.4" y="1018.4" text-anchor="middle" font-size="23.3">1.8x</text>
<path d="M995.8 1037.2V1025.5H1028.2V1225.4" stroke="#444" stroke-width="1.1" fill="none"/>
<text x="1099.5" y="1170.2" text-anchor="middle" font-size="23.3">2.6x</text>
<path d="M1081.5 1187.7V1177.6H1114.7V1383.8" stroke="#444" stroke-width="1.1" fill="none"/>
<text x="1185" y="1222.2" text-anchor="middle" font-size="23.3">2.5x</text>
<path d="M1167.4 1241V1229.3H1200.9V1381.4" stroke="#444" stroke-width="1.1" fill="none"/>
<text x="1271.2" y="1267.9" text-anchor="middle" font-size="23.3">1.9x</text>
<path d="M1255.2 1284.7V1275.6H1287.9V1369.7" stroke="#444" stroke-width="1.1" fill="none"/>
<text x="1013.4" y="1503.6" text-anchor="middle" font-size="22.6">ID3</text>
<text x="1099.5" y="1503.6" text-anchor="middle" font-size="22.6">ID8</text>
<text x="1185.9" y="1503.6" text-anchor="middle" font-size="22.6">SBS4</text>
<text x="1272.7" y="1503.6" text-anchor="middle" font-size="22.6">DBS2</text>
<text x="1145.5" y="1533.6" text-anchor="middle" font-size="22.5">COSMIC signature</text>
<rect x="1069.7" y="991.8" width="18.7" height="9.6" fill="#3b7db5"/>
<rect x="1069.7" y="1016.4" width="18.7" height="9.2" fill="#f0693a"/>
<text x="1099" y="1002.8" font-size="22.6">Upper CNA quartile</text>
<text x="1099" y="1027.4" font-size="22.6">Lower CNA quartile</text>
<text text-anchor="middle" font-size="23.85" transform="translate(928.4 1227) rotate(-90)">% of Samples in quartile displaying signature</text>
<text x="1285.3" y="748.8" font-size="32" font-weight="bold">g</text>
<text text-anchor="middle" font-size="20.4" transform="translate(1342 820.8) rotate(-90)">% of SBS events</text>
<text text-anchor="middle" font-size="20.2" transform="translate(1342 1025.8) rotate(-90)">% of indel events</text>
<text text-anchor="middle" font-size="20.5" transform="translate(1342 1211) rotate(-90)">% of DBS events</text>
<text text-anchor="middle" font-size="20.2" transform="translate(1342 1425.4) rotate(-90)">% of indel events</text>
<rect x="1370.6" y="735.3" width="115.3" height="8.2" fill="#1ebcec"/>
<text x="1428.25" y="733.2" text-anchor="middle" font-size="13.2" font-weight="bold">C&gt;A</text>
<rect x="1492.5" y="735.3" width="115.5" height="8.2" fill="#000000"/>
<text x="1547.55" y="733.2" text-anchor="middle" font-size="13.2" font-weight="bold">C&gt;G</text>
<rect x="1614.2" y="735.3" width="115.2" height="8.2" fill="#e32926"/>
<text x="1668.4" y="733.2" text-anchor="middle" font-size="13.2" font-weight="bold">C&gt;T</text>
<rect x="1736.2" y="735.3" width="115" height="8.2" fill="#cbcbcb"/>
<text x="1791.7" y="733.2" text-anchor="middle" font-size="13.2" font-weight="bold">T&gt;A</text>
<rect x="1858.1" y="735.3" width="115" height="8.2" fill="#9fd05d"/>
<text x="1914" y="733.2" text-anchor="middle" font-size="13.2" font-weight="bold">T&gt;C</text>
<rect x="1980" y="735.3" width="114.8" height="8.2" fill="#eec5c5"/>
<text x="2033" y="733.2" text-anchor="middle" font-size="13.2" font-weight="bold">T&gt;G</text>
<rect x="1368.1" y="745" width="728.7" height="133.3" fill="none" stroke="#e3e3e3" stroke-width="1"/>
<line x1="2090.5" y1="778.4" x2="2096.3" y2="778.4" stroke="#e6e6e6" stroke-width="0.8"/>
<line x1="1368.5" y1="778.4" x2="1374" y2="778.4" stroke="#e6e6e6" stroke-width="0.8"/>
<line x1="2090.5" y1="813" x2="2096.3" y2="813" stroke="#e6e6e6" stroke-width="0.8"/>
<line x1="1368.5" y1="813" x2="1374" y2="813" stroke="#e6e6e6" stroke-width="0.8"/>
<line x1="2090.5" y1="846.2" x2="2096.3" y2="846.2" stroke="#e6e6e6" stroke-width="0.8"/>
<line x1="1368.5" y1="846.2" x2="1374" y2="846.2" stroke="#e6e6e6" stroke-width="0.8"/>
<text x="1367.2" y="747.3" text-anchor="end" font-size="5.2" font-weight="bold">10.5%</text>
<text x="1367.2" y="780.3" text-anchor="end" font-size="5.2" font-weight="bold">7.9%</text>
<text x="1367.2" y="814.9" text-anchor="end" font-size="5.2" font-weight="bold">5.2%</text>
<text x="1367.2" y="848.1" text-anchor="end" font-size="5.2" font-weight="bold">2.6%</text>
<text x="1367.2" y="880.2" text-anchor="end" font-size="5.2" font-weight="bold">0</text>
<path d="M1370.6 878.3v-52.87h2.5v52.87zM1378.19 878.3v-41.47h2.5v41.47zM1385.78 878.3v-19.08h2.5v19.08zM1393.37 878.3v-36.7h2.5v36.7zM1400.96 878.3v-101.6h2.5v101.6zM1408.55 878.3v-100.56h2.5v100.56zM1416.14 878.3v-30.48h2.5v30.48zM1423.73 878.3v-87.08h2.5v87.08zM1431.32 878.3v-39.81h2.5v39.81zM1438.91 878.3v-43.13h2.5v43.13zM1446.5 878.3v-18.66h2.5v18.66zM1454.09 878.3v-25.92h2.5v25.92zM1461.68 878.3v-49.76h2.5v49.76zM1469.27 878.3v-59.09h2.5v59.09zM1476.86 878.3v-13.48h2.5v13.48zM1484.45 878.3v-51.83h2.5v51.83z" fill="#1ebcec"/>
<path d="M1492.04 878.3v-7.88h2.5v7.88zM1499.63 878.3v-3.11h2.5v3.11zM1507.22 878.3v-1.66h2.5v1.66zM1514.81 878.3v-4.15h2.5v4.15zM1522.4 878.3v-9.33h2.5v9.33zM1529.99 878.3v-7.88h2.5v7.88zM1537.58 878.3v-4.15h2.5v4.15zM1545.17 878.3v-7.88h2.5v7.88zM1552.76 878.3v-6.22h2.5v6.22zM1560.35 878.3v-6.63h2.5v6.63zM1567.94 878.3v-4.15h2.5v4.15zM1575.53 878.3v-3.73h2.5v3.73zM1583.12 878.3v-4.15h2.5v4.15zM1590.71 878.3v-7.26h2.5v7.26zM1598.3 878.3v-2.07h2.5v2.07zM1605.89 878.3v-3.73h2.5v3.73z" fill="#000000"/>
<path d="M1613.48 878.3v-10.78h2.5v10.78zM1621.07 878.3v-4.56h2.5v4.56zM1628.66 878.3v-1.04h2.5v1.04zM1636.25 878.3v-5.18h2.5v5.18zM1643.84 878.3v-15.55h2.5v15.55zM1651.43 878.3v-13.89h2.5v13.89zM1659.02 878.3v-3.73h2.5v3.73zM1666.61 878.3v-19.7h2.5v19.7zM1674.2 878.3v-5.18h2.5v5.18zM1681.79 878.3v-5.18h2.5v5.18zM1689.38 878.3v-0.62h2.5v0.62zM1696.97 878.3v-4.56h2.5v4.56zM1704.56 878.3v-4.15h2.5v4.15zM1712.15 878.3v-8.29h2.5v8.29zM1719.74 878.3v-1h2.5v1zM1727.33 878.3v-8.4h2.5v8.4z" fill="#e32926"/>
<path d="M1734.92 878.3v-11.34h2.5v11.34zM1742.51 878.3v-3.98h2.5v3.98zM1750.1 878.3v-15.31h2.5v15.31zM1757.69 878.3v-4.97h2.5v4.97zM1765.28 878.3v-17.9h2.5v17.9zM1772.87 878.3v-14.92h2.5v14.92zM1780.46 878.3v-40.77h2.5v40.77zM1788.05 878.3v-13.92h2.5v13.92zM1795.64 878.3v-11.34h2.5v11.34zM1803.23 878.3v-3.98h2.5v3.98zM1810.82 878.3v-15.51h2.5v15.51zM1818.41 878.3v-5.97h2.5v5.97zM1826 878.3v-10.54h2.5v10.54zM1833.59 878.3v-5.37h2.5v5.37zM1841.18 878.3v-11.93h2.5v11.93zM1848.77 878.3v-6.96h2.5v6.96z" fill="#c6c6c6"/>
<path d="M1856.36 878.3v-9.35h2.5v9.35zM1863.95 878.3v-0.99h2.5v0.99zM1871.54 878.3v-5.97h2.5v5.97zM1879.13 878.3v-1.59h2.5v1.59zM1886.72 878.3v-5.97h2.5v5.97zM1894.31 878.3v-2.59h2.5v2.59zM1901.9 878.3v-6.56h2.5v6.56zM1909.49 878.3v-2.98h2.5v2.98zM1917.08 878.3v-2.98h2.5v2.98zM1924.67 878.3v-1.39h2.5v1.39zM1932.26 878.3v-2.59h2.5v2.59zM1939.85 878.3v-0.99h2.5v0.99zM1947.44 878.3v-2.59h2.5v2.59zM1955.03 878.3v-0.6h2.5v0.6zM1962.62 878.3v-1.39h2.5v1.39zM1970.21 878.3v-0.4h2.5v0.4z" fill="#9fd05d"/>
<path d="M1977.8 878.3v-0.5h2.5v0.5zM1985.39 878.3v-0.4h2.5v0.4zM1992.98 878.3v-0.6h2.5v0.6zM2000.57 878.3v-0.4h2.5v0.4zM2008.16 878.3v-0.5h2.5v0.5zM2015.75 878.3v-0.5h2.5v0.5zM2023.34 878.3v-3h2.5v3zM2030.93 878.3v-0.8h2.5v0.8zM2038.52 878.3v-0.5h2.5v0.5zM2046.11 878.3v-0.4h2.5v0.4zM2053.7 878.3v-2h2.5v2zM2061.29 878.3v-0.6h2.5v0.6zM2068.88 878.3v-0.4h2.5v0.4zM2076.47 878.3v-0.5h2.5v0.5zM2084.06 878.3v-2h2.5v2zM2091.65 878.3v-0.6h2.5v0.6z" fill="#edbcbc"/>
<text transform="translate(1373.75 892.6) rotate(-90)" font-size="5.4" fill="#c9c9c9">A<tspan fill="#27b5e0" font-weight="bold" font-size="6.2">C</tspan>A</text>
<text transform="translate(1381.34 892.6) rotate(-90)" font-size="5.4" fill="#c9c9c9">A<tspan fill="#27b5e0" font-weight="bold" font-size="6.2">C</tspan>C</text>
<text transform="translate(1388.93 892.6) rotate(-90)" font-size="5.4" fill="#c9c9c9">A<tspan fill="#27b5e0" font-weight="bold" font-size="6.2">C</tspan>G</text>
<text transform="translate(1396.52 892.6) rotate(-90)" font-size="5.4" fill="#c9c9c9">A<tspan fill="#27b5e0" font-weight="bold" font-size="6.2">C</tspan>T</text>
<text transform="translate(1404.11 892.6) rotate(-90)" font-size="5.4" fill="#c9c9c9">C<tspan fill="#27b5e0" font-weight="bold" font-size="6.2">C</tspan>A</text>
<text transform="translate(1411.7 892.6) rotate(-90)" font-size="5.4" fill="#c9c9c9">C<tspan fill="#27b5e0" font-weight="bold" font-size="6.2">C</tspan>C</text>
<text transform="translate(1419.29 892.6) rotate(-90)" font-size="5.4" fill="#c9c9c9">C<tspan fill="#27b5e0" font-weight="bold" font-size="6.2">C</tspan>G</text>
<text transform="translate(1426.88 892.6) rotate(-90)" font-size="5.4" fill="#c9c9c9">C<tspan fill="#27b5e0" font-weight="bold" font-size="6.2">C</tspan>T</text>
<text transform="translate(1434.47 892.6) rotate(-90)" font-size="5.4" fill="#c9c9c9">G<tspan fill="#27b5e0" font-weight="bold" font-size="6.2">C</tspan>A</text>
<text transform="translate(1442.06 892.6) rotate(-90)" font-size="5.4" fill="#c9c9c9">G<tspan fill="#27b5e0" font-weight="bold" font-size="6.2">C</tspan>C</text>
<text transform="translate(1449.65 892.6) rotate(-90)" font-size="5.4" fill="#c9c9c9">G<tspan fill="#27b5e0" font-weight="bold" font-size="6.2">C</tspan>G</text>
<text transform="translate(1457.24 892.6) rotate(-90)" font-size="5.4" fill="#c9c9c9">G<tspan fill="#27b5e0" font-weight="bold" font-size="6.2">C</tspan>T</text>
<text transform="translate(1464.83 892.6) rotate(-90)" font-size="5.4" fill="#c9c9c9">T<tspan fill="#27b5e0" font-weight="bold" font-size="6.2">C</tspan>A</text>
<text transform="translate(1472.42 892.6) rotate(-90)" font-size="5.4" fill="#c9c9c9">T<tspan fill="#27b5e0" font-weight="bold" font-size="6.2">C</tspan>C</text>
<text transform="translate(1480.01 892.6) rotate(-90)" font-size="5.4" fill="#c9c9c9">T<tspan fill="#27b5e0" font-weight="bold" font-size="6.2">C</tspan>G</text>
<text transform="translate(1487.6 892.6) rotate(-90)" font-size="5.4" fill="#c9c9c9">T<tspan fill="#27b5e0" font-weight="bold" font-size="6.2">C</tspan>T</text>
<text transform="translate(1495.19 892.6) rotate(-90)" font-size="5.4" fill="#c9c9c9">A<tspan fill="#222" font-weight="bold" font-size="6.2">C</tspan>A</text>
<text transform="translate(1502.78 892.6) rotate(-90)" font-size="5.4" fill="#c9c9c9">A<tspan fill="#222" font-weight="bold" font-size="6.2">C</tspan>C</text>
<text transform="translate(1510.37 892.6) rotate(-90)" font-size="5.4" fill="#c9c9c9">A<tspan fill="#222" font-weight="bold" font-size="6.2">C</tspan>G</text>
<text transform="translate(1517.96 892.6) rotate(-90)" font-size="5.4" fill="#c9c9c9">A<tspan fill="#222" font-weight="bold" font-size="6.2">C</tspan>T</text>
<text transform="translate(1525.55 892.6) rotate(-90)" font-size="5.4" fill="#c9c9c9">C<tspan fill="#222" font-weight="bold" font-size="6.2">C</tspan>A</text>
<text transform="translate(1533.14 892.6) rotate(-90)" font-size="5.4" fill="#c9c9c9">C<tspan fill="#222" font-weight="bold" font-size="6.2">C</tspan>C</text>
<text transform="translate(1540.73 892.6) rotate(-90)" font-size="5.4" fill="#c9c9c9">C<tspan fill="#222" font-weight="bold" font-size="6.2">C</tspan>G</text>
<text transform="translate(1548.32 892.6) rotate(-90)" font-size="5.4" fill="#c9c9c9">C<tspan fill="#222" font-weight="bold" font-size="6.2">C</tspan>T</text>
<text transform="translate(1555.91 892.6) rotate(-90)" font-size="5.4" fill="#c9c9c9">G<tspan fill="#222" font-weight="bold" font-size="6.2">C</tspan>A</text>
<text transform="translate(1563.5 892.6) rotate(-90)" font-size="5.4" fill="#c9c9c9">G<tspan fill="#222" font-weight="bold" font-size="6.2">C</tspan>C</text>
<text transform="translate(1571.09 892.6) rotate(-90)" font-size="5.4" fill="#c9c9c9">G<tspan fill="#222" font-weight="bold" font-size="6.2">C</tspan>G</text>
<text transform="translate(1578.68 892.6) rotate(-90)" font-size="5.4" fill="#c9c9c9">G<tspan fill="#222" font-weight="bold" font-size="6.2">C</tspan>T</text>
<text transform="translate(1586.27 892.6) rotate(-90)" font-size="5.4" fill="#c9c9c9">T<tspan fill="#222" font-weight="bold" font-size="6.2">C</tspan>A</text>
<text transform="translate(1593.86 892.6) rotate(-90)" font-size="5.4" fill="#c9c9c9">T<tspan fill="#222" font-weight="bold" font-size="6.2">C</tspan>C</text>
<text transform="translate(1601.45 892.6) rotate(-90)" font-size="5.4" fill="#c9c9c9">T<tspan fill="#222" font-weight="bold" font-size="6.2">C</tspan>G</text>
<text transform="translate(1609.04 892.6) rotate(-90)" font-size="5.4" fill="#c9c9c9">T<tspan fill="#222" font-weight="bold" font-size="6.2">C</tspan>T</text>
<text transform="translate(1616.63 892.6) rotate(-90)" font-size="5.4" fill="#c9c9c9">A<tspan fill="#dd3a38" font-weight="bold" font-size="6.2">C</tspan>A</text>
<text transform="translate(1624.22 892.6) rotate(-90)" font-size="5.4" fill="#c9c9c9">A<tspan fill="#dd3a38" font-weight="bold" font-size="6.2">C</tspan>C</text>
<text transform="translate(1631.81 892.6) rotate(-90)" font-size="5.4" fill="#c9c9c9">A<tspan fill="#dd3a38" font-weight="bold" font-size="6.2">C</tspan>G</text>
<text transform="translate(1639.4 892.6) rotate(-90)" font-size="5.4" fill="#c9c9c9">A<tspan fill="#dd3a38" font-weight="bold" font-size="6.2">C</tspan>T</text>
<text transform="translate(1646.99 892.6) rotate(-90)" font-size="5.4" fill="#c9c9c9">C<tspan fill="#dd3a38" font-weight="bold" font-size="6.2">C</tspan>A</text>
<text transform="translate(1654.58 892.6) rotate(-90)" font-size="5.4" fill="#c9c9c9">C<tspan fill="#dd3a38" font-weight="bold" font-size="6.2">C</tspan>C</text>
<text transform="translate(1662.17 892.6) rotate(-90)" font-size="5.4" fill="#c9c9c9">C<tspan fill="#dd3a38" font-weight="bold" font-size="6.2">C</tspan>G</text>
<text transform="translate(1669.76 892.6) rotate(-90)" font-size="5.4" fill="#c9c9c9">C<tspan fill="#dd3a38" font-weight="bold" font-size="6.2">C</tspan>T</text>
<text transform="translate(1677.35 892.6) rotate(-90)" font-size="5.4" fill="#c9c9c9">G<tspan fill="#dd3a38" font-weight="bold" font-size="6.2">C</tspan>A</text>
<text transform="translate(1684.94 892.6) rotate(-90)" font-size="5.4" fill="#c9c9c9">G<tspan fill="#dd3a38" font-weight="bold" font-size="6.2">C</tspan>C</text>
<text transform="translate(1692.53 892.6) rotate(-90)" font-size="5.4" fill="#c9c9c9">G<tspan fill="#dd3a38" font-weight="bold" font-size="6.2">C</tspan>G</text>
<text transform="translate(1700.12 892.6) rotate(-90)" font-size="5.4" fill="#c9c9c9">G<tspan fill="#dd3a38" font-weight="bold" font-size="6.2">C</tspan>T</text>
<text transform="translate(1707.71 892.6) rotate(-90)" font-size="5.4" fill="#c9c9c9">T<tspan fill="#dd3a38" font-weight="bold" font-size="6.2">C</tspan>A</text>
<text transform="translate(1715.3 892.6) rotate(-90)" font-size="5.4" fill="#c9c9c9">T<tspan fill="#dd3a38" font-weight="bold" font-size="6.2">C</tspan>C</text>
<text transform="translate(1722.89 892.6) rotate(-90)" font-size="5.4" fill="#c9c9c9">T<tspan fill="#dd3a38" font-weight="bold" font-size="6.2">C</tspan>G</text>
<text transform="translate(1730.48 892.6) rotate(-90)" font-size="5.4" fill="#c9c9c9">T<tspan fill="#dd3a38" font-weight="bold" font-size="6.2">C</tspan>T</text>
<text transform="translate(1738.07 892.6) rotate(-90)" font-size="5.4" fill="#c9c9c9">A<tspan fill="#b4b4b4" font-weight="bold" font-size="6.2">T</tspan>A</text>
<text transform="translate(1745.66 892.6) rotate(-90)" font-size="5.4" fill="#c9c9c9">A<tspan fill="#b4b4b4" font-weight="bold" font-size="6.2">T</tspan>C</text>
<text transform="translate(1753.25 892.6) rotate(-90)" font-size="5.4" fill="#c9c9c9">A<tspan fill="#b4b4b4" font-weight="bold" font-size="6.2">T</tspan>G</text>
<text transform="translate(1760.84 892.6) rotate(-90)" font-size="5.4" fill="#c9c9c9">A<tspan fill="#b4b4b4" font-weight="bold" font-size="6.2">T</tspan>T</text>
<text transform="translate(1768.43 892.6) rotate(-90)" font-size="5.4" fill="#c9c9c9">C<tspan fill="#b4b4b4" font-weight="bold" font-size="6.2">T</tspan>A</text>
<text transform="translate(1776.02 892.6) rotate(-90)" font-size="5.4" fill="#c9c9c9">C<tspan fill="#b4b4b4" font-weight="bold" font-size="6.2">T</tspan>C</text>
<text transform="translate(1783.61 892.6) rotate(-90)" font-size="5.4" fill="#c9c9c9">C<tspan fill="#b4b4b4" font-weight="bold" font-size="6.2">T</tspan>G</text>
<text transform="translate(1791.2 892.6) rotate(-90)" font-size="5.4" fill="#c9c9c9">C<tspan fill="#b4b4b4" font-weight="bold" font-size="6.2">T</tspan>T</text>
<text transform="translate(1798.79 892.6) rotate(-90)" font-size="5.4" fill="#c9c9c9">G<tspan fill="#b4b4b4" font-weight="bold" font-size="6.2">T</tspan>A</text>
<text transform="translate(1806.38 892.6) rotate(-90)" font-size="5.4" fill="#c9c9c9">G<tspan fill="#b4b4b4" font-weight="bold" font-size="6.2">T</tspan>C</text>
<text transform="translate(1813.97 892.6) rotate(-90)" font-size="5.4" fill="#c9c9c9">G<tspan fill="#b4b4b4" font-weight="bold" font-size="6.2">T</tspan>G</text>
<text transform="translate(1821.56 892.6) rotate(-90)" font-size="5.4" fill="#c9c9c9">G<tspan fill="#b4b4b4" font-weight="bold" font-size="6.2">T</tspan>T</text>
<text transform="translate(1829.15 892.6) rotate(-90)" font-size="5.4" fill="#c9c9c9">T<tspan fill="#b4b4b4" font-weight="bold" font-size="6.2">T</tspan>A</text>
<text transform="translate(1836.74 892.6) rotate(-90)" font-size="5.4" fill="#c9c9c9">T<tspan fill="#b4b4b4" font-weight="bold" font-size="6.2">T</tspan>C</text>
<text transform="translate(1844.33 892.6) rotate(-90)" font-size="5.4" fill="#c9c9c9">T<tspan fill="#b4b4b4" font-weight="bold" font-size="6.2">T</tspan>G</text>
<text transform="translate(1851.92 892.6) rotate(-90)" font-size="5.4" fill="#c9c9c9">T<tspan fill="#b4b4b4" font-weight="bold" font-size="6.2">T</tspan>T</text>
<text transform="translate(1859.51 892.6) rotate(-90)" font-size="5.4" fill="#c9c9c9">A<tspan fill="#93c456" font-weight="bold" font-size="6.2">T</tspan>A</text>
<text transform="translate(1867.1 892.6) rotate(-90)" font-size="5.4" fill="#c9c9c9">A<tspan fill="#93c456" font-weight="bold" font-size="6.2">T</tspan>C</text>
<text transform="translate(1874.69 892.6) rotate(-90)" font-size="5.4" fill="#c9c9c9">A<tspan fill="#93c456" font-weight="bold" font-size="6.2">T</tspan>G</text>
<text transform="translate(1882.28 892.6) rotate(-90)" font-size="5.4" fill="#c9c9c9">A<tspan fill="#93c456" font-weight="bold" font-size="6.2">T</tspan>T</text>
<text transform="translate(1889.87 892.6) rotate(-90)" font-size="5.4" fill="#c9c9c9">C<tspan fill="#93c456" font-weight="bold" font-size="6.2">T</tspan>A</text>
<text transform="translate(1897.46 892.6) rotate(-90)" font-size="5.4" fill="#c9c9c9">C<tspan fill="#93c456" font-weight="bold" font-size="6.2">T</tspan>C</text>
<text transform="translate(1905.05 892.6) rotate(-90)" font-size="5.4" fill="#c9c9c9">C<tspan fill="#93c456" font-weight="bold" font-size="6.2">T</tspan>G</text>
<text transform="translate(1912.64 892.6) rotate(-90)" font-size="5.4" fill="#c9c9c9">C<tspan fill="#93c456" font-weight="bold" font-size="6.2">T</tspan>T</text>
<text transform="translate(1920.23 892.6) rotate(-90)" font-size="5.4" fill="#c9c9c9">G<tspan fill="#93c456" font-weight="bold" font-size="6.2">T</tspan>A</text>
<text transform="translate(1927.82 892.6) rotate(-90)" font-size="5.4" fill="#c9c9c9">G<tspan fill="#93c456" font-weight="bold" font-size="6.2">T</tspan>C</text>
<text transform="translate(1935.41 892.6) rotate(-90)" font-size="5.4" fill="#c9c9c9">G<tspan fill="#93c456" font-weight="bold" font-size="6.2">T</tspan>G</text>
<text transform="translate(1943 892.6) rotate(-90)" font-size="5.4" fill="#c9c9c9">G<tspan fill="#93c456" font-weight="bold" font-size="6.2">T</tspan>T</text>
<text transform="translate(1950.59 892.6) rotate(-90)" font-size="5.4" fill="#c9c9c9">T<tspan fill="#93c456" font-weight="bold" font-size="6.2">T</tspan>A</text>
<text transform="translate(1958.18 892.6) rotate(-90)" font-size="5.4" fill="#c9c9c9">T<tspan fill="#93c456" font-weight="bold" font-size="6.2">T</tspan>C</text>
<text transform="translate(1965.77 892.6) rotate(-90)" font-size="5.4" fill="#c9c9c9">T<tspan fill="#93c456" font-weight="bold" font-size="6.2">T</tspan>G</text>
<text transform="translate(1973.36 892.6) rotate(-90)" font-size="5.4" fill="#c9c9c9">T<tspan fill="#93c456" font-weight="bold" font-size="6.2">T</tspan>T</text>
<text transform="translate(1980.95 892.6) rotate(-90)" font-size="5.4" fill="#c9c9c9">A<tspan fill="#e6b0b0" font-weight="bold" font-size="6.2">T</tspan>A</text>
<text transform="translate(1988.54 892.6) rotate(-90)" font-size="5.4" fill="#c9c9c9">A<tspan fill="#e6b0b0" font-weight="bold" font-size="6.2">T</tspan>C</text>
<text transform="translate(1996.13 892.6) rotate(-90)" font-size="5.4" fill="#c9c9c9">A<tspan fill="#e6b0b0" font-weight="bold" font-size="6.2">T</tspan>G</text>
<text transform="translate(2003.72 892.6) rotate(-90)" font-size="5.4" fill="#c9c9c9">A<tspan fill="#e6b0b0" font-weight="bold" font-size="6.2">T</tspan>T</text>
<text transform="translate(2011.31 892.6) rotate(-90)" font-size="5.4" fill="#c9c9c9">C<tspan fill="#e6b0b0" font-weight="bold" font-size="6.2">T</tspan>A</text>
<text transform="translate(2018.9 892.6) rotate(-90)" font-size="5.4" fill="#c9c9c9">C<tspan fill="#e6b0b0" font-weight="bold" font-size="6.2">T</tspan>C</text>
<text transform="translate(2026.49 892.6) rotate(-90)" font-size="5.4" fill="#c9c9c9">C<tspan fill="#e6b0b0" font-weight="bold" font-size="6.2">T</tspan>G</text>
<text transform="translate(2034.08 892.6) rotate(-90)" font-size="5.4" fill="#c9c9c9">C<tspan fill="#e6b0b0" font-weight="bold" font-size="6.2">T</tspan>T</text>
<text transform="translate(2041.67 892.6) rotate(-90)" font-size="5.4" fill="#c9c9c9">G<tspan fill="#e6b0b0" font-weight="bold" font-size="6.2">T</tspan>A</text>
<text transform="translate(2049.26 892.6) rotate(-90)" font-size="5.4" fill="#c9c9c9">G<tspan fill="#e6b0b0" font-weight="bold" font-size="6.2">T</tspan>C</text>
<text transform="translate(2056.85 892.6) rotate(-90)" font-size="5.4" fill="#c9c9c9">G<tspan fill="#e6b0b0" font-weight="bold" font-size="6.2">T</tspan>G</text>
<text transform="translate(2064.44 892.6) rotate(-90)" font-size="5.4" fill="#c9c9c9">G<tspan fill="#e6b0b0" font-weight="bold" font-size="6.2">T</tspan>T</text>
<text transform="translate(2072.03 892.6) rotate(-90)" font-size="5.4" fill="#c9c9c9">T<tspan fill="#e6b0b0" font-weight="bold" font-size="6.2">T</tspan>A</text>
<text transform="translate(2079.62 892.6) rotate(-90)" font-size="5.4" fill="#c9c9c9">T<tspan fill="#e6b0b0" font-weight="bold" font-size="6.2">T</tspan>C</text>
<text transform="translate(2087.21 892.6) rotate(-90)" font-size="5.4" fill="#c9c9c9">T<tspan fill="#e6b0b0" font-weight="bold" font-size="6.2">T</tspan>G</text>
<text transform="translate(2094.8 892.6) rotate(-90)" font-size="5.4" fill="#c9c9c9">T<tspan fill="#e6b0b0" font-weight="bold" font-size="6.2">T</tspan>T</text>
<text x="1373" y="768.5" font-size="22.8">SBS4</text>
<text x="1451" y="768.5" font-size="20.45">Benzopyrene</text>
<text x="1671" y="768.6" font-size="20.6">Sig Mutations: 4,541 (20.2%) vs 1,499 (6.9%)</text>
<text x="1422.5" y="922.1" text-anchor="middle" font-size="11.3" font-weight="bold" class="s">1bp Deletion</text>
<text x="1528.3" y="921.3" text-anchor="middle" font-size="9.9" font-weight="bold" class="s">1bp Insertion</text>
<text x="1683.8" y="910.8" text-anchor="middle" font-size="10" font-weight="bold" class="s">&gt;1bp Deletion at Repeats</text>
<text x="1683.8" y="921.3" text-anchor="middle" font-size="10" font-weight="bold" class="s">(Deletion Length)</text>
<text x="1897.4" y="910.9" text-anchor="middle" font-size="10" font-weight="bold" class="s">&gt;1bp Insertions at Repeats</text>
<text x="1897.4" y="921.4" text-anchor="middle" font-size="10" font-weight="bold" class="s">(Insertion Length)</text>
<text x="2042.9" y="910.9" text-anchor="middle" font-size="10" font-weight="bold" class="s">Microhomology</text>
<text x="2042.9" y="921.4" text-anchor="middle" font-size="10" font-weight="bold" class="s">(Deletion Length)</text>
<rect x="1370.6" y="929.1" width="47" height="10.5" fill="#fdbe6f"/>
<rect x="1370.6" y="1083.9" width="47" height="9.6" fill="#fdbe6f"/>
<text x="1394.1" y="937.5" text-anchor="middle" font-size="9.6" font-weight="bold" class="s" fill="#000">C</text>
<rect x="1423.29" y="929.1" width="47" height="10.5" fill="#f57f20"/>
<rect x="1423.29" y="1083.9" width="47" height="9.6" fill="#f57f20"/>
<text x="1446.79" y="937.5" text-anchor="middle" font-size="9.6" font-weight="bold" class="s" fill="#fff">T</text>
<rect x="1475.98" y="929.1" width="47" height="10.5" fill="#b0dc8a"/>
<rect x="1475.98" y="1083.9" width="47" height="9.6" fill="#b0dc8a"/>
<text x="1499.48" y="937.5" text-anchor="middle" font-size="9.6" font-weight="bold" class="s" fill="#000">C</text>
<rect x="1528.67" y="929.1" width="47" height="10.5" fill="#36a047"/>
<rect x="1528.67" y="1083.9" width="47" height="9.6" fill="#36a047"/>
<text x="1552.17" y="937.5" text-anchor="middle" font-size="9.6" font-weight="bold" class="s" fill="#fff">T</text>
<rect x="1581.36" y="929.1" width="47" height="10.5" fill="#fbc9b5"/>
<rect x="1581.36" y="1083.9" width="47" height="9.6" fill="#fbc9b5"/>
<text x="1604.86" y="937.5" text-anchor="middle" font-size="9.6" font-weight="bold" class="s" fill="#000">2</text>
<rect x="1634.05" y="929.1" width="47" height="10.5" fill="#f18a6b"/>
<rect x="1634.05" y="1083.9" width="47" height="9.6" fill="#f18a6b"/>
<text x="1657.55" y="937.5" text-anchor="middle" font-size="9.6" font-weight="bold" class="s" fill="#000">3</text>
<rect x="1686.74" y="929.1" width="47" height="10.5" fill="#ef4432"/>
<rect x="1686.74" y="1083.9" width="47" height="9.6" fill="#ef4432"/>
<text x="1710.24" y="937.5" text-anchor="middle" font-size="9.6" font-weight="bold" class="s" fill="#000">4</text>
<rect x="1739.43" y="929.1" width="47" height="10.5" fill="#c4202c"/>
<rect x="1739.43" y="1083.9" width="47" height="9.6" fill="#c4202c"/>
<text x="1762.93" y="937.5" text-anchor="middle" font-size="9.6" font-weight="bold" class="s" fill="#fff">5+</text>
<rect x="1792.12" y="929.1" width="47" height="10.5" fill="#cfe1f2"/>
<rect x="1792.12" y="1083.9" width="47" height="9.6" fill="#cfe1f2"/>
<text x="1815.62" y="937.5" text-anchor="middle" font-size="9.6" font-weight="bold" class="s" fill="#000">2</text>
<rect x="1844.81" y="929.1" width="47" height="10.5" fill="#94c4e0"/>
<rect x="1844.81" y="1083.9" width="47" height="9.6" fill="#94c4e0"/>
<text x="1868.31" y="937.5" text-anchor="middle" font-size="9.6" font-weight="bold" class="s" fill="#000">3</text>
<rect x="1897.5" y="929.1" width="47" height="10.5" fill="#4a93ce"/>
<rect x="1897.5" y="1083.9" width="47" height="9.6" fill="#4a93ce"/>
<text x="1921" y="937.5" text-anchor="middle" font-size="9.6" font-weight="bold" class="s" fill="#000">4</text>
<rect x="1950.19" y="929.1" width="47" height="10.5" fill="#1c63ae"/>
<rect x="1950.19" y="1083.9" width="47" height="9.6" fill="#1c63ae"/>
<text x="1973.69" y="937.5" text-anchor="middle" font-size="9.6" font-weight="bold" class="s" fill="#fff">5+</text>
<rect x="2000.3" y="929.1" width="7" height="10.5" fill="#fff"/>
<rect x="2000.3" y="1083.9" width="7" height="9.6" fill="#e4e4f1"/>
<text x="2003.8" y="937.5" text-anchor="middle" font-size="9.6" font-weight="bold" class="s" fill="#000">2</text>
<rect x="2011.6" y="929.1" width="12.2" height="10.5" fill="#b5b7dd"/>
<rect x="2011.6" y="1083.9" width="12.2" height="9.6" fill="#b5b7dd"/>
<text x="2017.7" y="937.5" text-anchor="middle" font-size="9.6" font-weight="bold" class="s" fill="#000">3</text>
<rect x="2029.2" y="929.1" width="20.8" height="10.5" fill="#8686c4"/>
<rect x="2029.2" y="1083.9" width="20.8" height="9.6" fill="#8686c4"/>
<text x="2039.6" y="937.5" text-anchor="middle" font-size="9.6" font-weight="bold" class="s" fill="#000">4</text>
<rect x="2055.6" y="929.1" width="39" height="10.5" fill="#643ca6"/>
<rect x="2055.6" y="1083.9" width="39" height="9.6" fill="#643ca6"/>
<text x="2075.1" y="937.5" text-anchor="middle" font-size="9.6" font-weight="bold" class="s" fill="#fff">5+</text>
<rect x="1371.34" y="1019.48" width="3.5" height="62.62" fill="#fdbe6f"/>
<text x="1373.09" y="1100.2" text-anchor="middle" font-size="7.8" font-weight="bold" class="s">1</text>
<rect x="1380.13" y="976.98" width="3.5" height="105.12" fill="#fdbe6f"/>
<text x="1381.88" y="1100.2" text-anchor="middle" font-size="7.8" font-weight="bold" class="s">2</text>
<rect x="1388.91" y="992.94" width="3.5" height="89.16" fill="#fdbe6f"/>
<text x="1390.66" y="1100.2" text-anchor="middle" font-size="7.8" font-weight="bold" class="s">3</text>
<rect x="1397.7" y="1049.55" width="3.5" height="32.55" fill="#fdbe6f"/>
<text x="1399.45" y="1100.2" text-anchor="middle" font-size="7.8" font-weight="bold" class="s">4</text>
<rect x="1406.48" y="1059.91" width="3.5" height="22.19" fill="#fdbe6f"/>
<text x="1408.23" y="1100.2" text-anchor="middle" font-size="7.8" font-weight="bold" class="s">5</text>
<rect x="1415.26" y="1070.7" width="3.5" height="11.4" fill="#fdbe6f"/>
<text x="1417.01" y="1100.2" text-anchor="middle" font-size="7.8" font-weight="bold" class="s">6+</text>
<rect x="1424.05" y="1062.61" width="3.5" height="19.49" fill="#f57f20"/>
<text x="1425.8" y="1100.2" text-anchor="middle" font-size="7.8" font-weight="bold" class="s">1</text>
<rect x="1432.83" y="1075.05" width="3.5" height="7.05" fill="#f57f20"/>
<text x="1434.58" y="1100.2" text-anchor="middle" font-size="7.8" font-weight="bold" class="s">2</text>
<rect x="1441.62" y="1073.81" width="3.5" height="8.29" fill="#f57f20"/>
<text x="1443.37" y="1100.2" text-anchor="middle" font-size="7.8" font-weight="bold" class="s">3</text>
<rect x="1450.4" y="1071.94" width="3.5" height="10.16" fill="#f57f20"/>
<text x="1452.15" y="1100.2" text-anchor="middle" font-size="7.8" font-weight="bold" class="s">4</text>
<rect x="1459.19" y="1074.01" width="3.5" height="8.09" fill="#f57f20"/>
<text x="1460.94" y="1100.2" text-anchor="middle" font-size="7.8" font-weight="bold" class="s">5</text>
<rect x="1467.97" y="1077.54" width="3.5" height="4.56" fill="#f57f20"/>
<text x="1469.72" y="1100.2" text-anchor="middle" font-size="7.8" font-weight="bold" class="s">6+</text>
<rect x="1476.75" y="1081.69" width="3.5" height="0.41" fill="#b0dc8a"/>
<text x="1478.5" y="1100.2" text-anchor="middle" font-size="7.8" font-weight="bold" class="s">0</text>
<rect x="1485.54" y="1081.69" width="3.5" height="0.41" fill="#b0dc8a"/>
<text x="1487.29" y="1100.2" text-anchor="middle" font-size="7.8" font-weight="bold" class="s">1</text>
<rect x="1494.32" y="1081.27" width="3.5" height="0.83" fill="#b0dc8a"/>
<text x="1496.07" y="1100.2" text-anchor="middle" font-size="7.8" font-weight="bold" class="s">2</text>
<rect x="1503.11" y="1078.58" width="3.5" height="3.52" fill="#b0dc8a"/>
<text x="1504.86" y="1100.2" text-anchor="middle" font-size="7.8" font-weight="bold" class="s">3</text>
<rect x="1511.89" y="1078.58" width="3.5" height="3.52" fill="#b0dc8a"/>
<text x="1513.64" y="1100.2" text-anchor="middle" font-size="7.8" font-weight="bold" class="s">4</text>
<rect x="1520.68" y="1077.95" width="3.5" height="4.15" fill="#b0dc8a"/>
<text x="1522.43" y="1100.2" text-anchor="middle" font-size="7.8" font-weight="bold" class="s">5+</text>
<rect x="1529.46" y="1072.36" width="3.5" height="9.74" fill="#36a047"/>
<text x="1531.21" y="1100.2" text-anchor="middle" font-size="7.8" font-weight="bold" class="s">0</text>
<rect x="1538.24" y="1060.33" width="3.5" height="21.77" fill="#36a047"/>
<text x="1539.99" y="1100.2" text-anchor="middle" font-size="7.8" font-weight="bold" class="s">1</text>
<rect x="1547.03" y="1061.57" width="3.5" height="20.53" fill="#36a047"/>
<text x="1548.78" y="1100.2" text-anchor="middle" font-size="7.8" font-weight="bold" class="s">2</text>
<rect x="1555.81" y="1069.24" width="3.5" height="12.86" fill="#36a047"/>
<text x="1557.56" y="1100.2" text-anchor="middle" font-size="7.8" font-weight="bold" class="s">3</text>
<rect x="1564.6" y="1078.58" width="3.5" height="3.52" fill="#36a047"/>
<text x="1566.35" y="1100.2" text-anchor="middle" font-size="7.8" font-weight="bold" class="s">4</text>
<rect x="1573.38" y="1068.62" width="3.5" height="13.48" fill="#36a047"/>
<text x="1575.13" y="1100.2" text-anchor="middle" font-size="7.8" font-weight="bold" class="s">5+</text>
<rect x="1582.17" y="1078.58" width="3.5" height="3.52" fill="#fbc9b5"/>
<text x="1583.92" y="1100.2" text-anchor="middle" font-size="7.8" font-weight="bold" class="s">1</text>
<rect x="1590.95" y="1077.54" width="3.5" height="4.56" fill="#fbc9b5"/>
<text x="1592.7" y="1100.2" text-anchor="middle" font-size="7.8" font-weight="bold" class="s">2</text>
<rect x="1599.73" y="1076.09" width="3.5" height="6.01" fill="#fbc9b5"/>
<text x="1601.48" y="1100.2" text-anchor="middle" font-size="7.8" font-weight="bold" class="s">3</text>
<rect x="1608.52" y="1078.58" width="3.5" height="3.52" fill="#fbc9b5"/>
<text x="1610.27" y="1100.2" text-anchor="middle" font-size="7.8" font-weight="bold" class="s">4</text>
<rect x="1617.3" y="1081.06" width="3.5" height="1.04" fill="#fbc9b5"/>
<text x="1619.05" y="1100.2" text-anchor="middle" font-size="7.8" font-weight="bold" class="s">5</text>
<rect x="1626.09" y="1081.69" width="3.5" height="0.41" fill="#fbc9b5"/>
<text x="1627.84" y="1100.2" text-anchor="middle" font-size="7.8" font-weight="bold" class="s">6+</text>
<text x="1636.62" y="1100.2" text-anchor="middle" font-size="7.8" font-weight="bold" class="s">1</text>
<text x="1645.41" y="1100.2" text-anchor="middle" font-size="7.8" font-weight="bold" class="s">2</text>
<text x="1654.19" y="1100.2" text-anchor="middle" font-size="7.8" font-weight="bold" class="s">3</text>
<text x="1662.98" y="1100.2" text-anchor="middle" font-size="7.8" font-weight="bold" class="s">4</text>
<text x="1671.76" y="1100.2" text-anchor="middle" font-size="7.8" font-weight="bold" class="s">5</text>
<text x="1680.54" y="1100.2" text-anchor="middle" font-size="7.8" font-weight="bold" class="s">6+</text>
<text x="1689.33" y="1100.2" text-anchor="middle" font-size="7.8" font-weight="bold" class="s">1</text>
<text x="1698.11" y="1100.2" text-anchor="middle" font-size="7.8" font-weight="bold" class="s">2</text>
<text x="1706.9" y="1100.2" text-anchor="middle" font-size="7.8" font-weight="bold" class="s">3</text>
<text x="1715.68" y="1100.2" text-anchor="middle" font-size="7.8" font-weight="bold" class="s">4</text>
<text x="1724.47" y="1100.2" text-anchor="middle" font-size="7.8" font-weight="bold" class="s">5</text>
<text x="1733.25" y="1100.2" text-anchor="middle" font-size="7.8" font-weight="bold" class="s">6+</text>
<rect x="1740.28" y="1081.3" width="3.5" height="0.8" fill="#c4202c"/>
<text x="1742.03" y="1100.2" text-anchor="middle" font-size="7.8" font-weight="bold" class="s">1</text>
<text x="1750.82" y="1100.2" text-anchor="middle" font-size="7.8" font-weight="bold" class="s">2</text>
<text x="1759.6" y="1100.2" text-anchor="middle" font-size="7.8" font-weight="bold" class="s">3</text>
<text x="1768.39" y="1100.2" text-anchor="middle" font-size="7.8" font-weight="bold" class="s">4</text>
<text x="1777.17" y="1100.2" text-anchor="middle" font-size="7.8" font-weight="bold" class="s">5</text>
<text x="1785.96" y="1100.2" text-anchor="middle" font-size="7.8" font-weight="bold" class="s">6+</text>
<text x="1794.74" y="1100.2" text-anchor="middle" font-size="7.8" font-weight="bold" class="s">0</text>
<text x="1803.52" y="1100.2" text-anchor="middle" font-size="7.8" font-weight="bold" class="s">1</text>
<text x="1812.31" y="1100.2" text-anchor="middle" font-size="7.8" font-weight="bold" class="s">2</text>
<text x="1821.09" y="1100.2" text-anchor="middle" font-size="7.8" font-weight="bold" class="s">3</text>
<text x="1829.88" y="1100.2" text-anchor="middle" font-size="7.8" font-weight="bold" class="s">4</text>
<text x="1838.66" y="1100.2" text-anchor="middle" font-size="7.8" font-weight="bold" class="s">5+</text>
<text x="1847.45" y="1100.2" text-anchor="middle" font-size="7.8" font-weight="bold" class="s">0</text>
<text x="1856.23" y="1100.2" text-anchor="middle" font-size="7.8" font-weight="bold" class="s">1</text>
<text x="1865.02" y="1100.2" text-anchor="middle" font-size="7.8" font-weight="bold" class="s">2</text>
<text x="1873.8" y="1100.2" text-anchor="middle" font-size="7.8" font-weight="bold" class="s">3</text>
<text x="1882.58" y="1100.2" text-anchor="middle" font-size="7.8" font-weight="bold" class="s">4</text>
<text x="1891.37" y="1100.2" text-anchor="middle" font-size="7.8" font-weight="bold" class="s">5+</text>
<text x="1900.15" y="1100.2" text-anchor="middle" font-size="7.8" font-weight="bold" class="s">0</text>
<text x="1908.94" y="1100.2" text-anchor="middle" font-size="7.8" font-weight="bold" class="s">1</text>
<text x="1917.72" y="1100.2" text-anchor="middle" font-size="7.8" font-weight="bold" class="s">2</text>
<text x="1926.51" y="1100.2" text-anchor="middle" font-size="7.8" font-weight="bold" class="s">3</text>
<text x="1935.29" y="1100.2" text-anchor="middle" font-size="7.8" font-weight="bold" class="s">4</text>
<text x="1944.07" y="1100.2" text-anchor="middle" font-size="7.8" font-weight="bold" class="s">5+</text>
<text x="1952.86" y="1100.2" text-anchor="middle" font-size="7.8" font-weight="bold" class="s">0</text>
<text x="1961.64" y="1100.2" text-anchor="middle" font-size="7.8" font-weight="bold" class="s">1</text>
<text x="1970.43" y="1100.2" text-anchor="middle" font-size="7.8" font-weight="bold" class="s">2</text>
<text x="1979.21" y="1100.2" text-anchor="middle" font-size="7.8" font-weight="bold" class="s">3</text>
<text x="1988" y="1100.2" text-anchor="middle" font-size="7.8" font-weight="bold" class="s">4</text>
<text x="1996.78" y="1100.2" text-anchor="middle" font-size="7.8" font-weight="bold" class="s">5+</text>
<rect x="2003.81" y="1079.6" width="3.5" height="2.5" fill="#d9d9ee"/>
<text x="2005.56" y="1100.2" text-anchor="middle" font-size="7.8" font-weight="bold" class="s">1</text>
<text x="2014.35" y="1100.2" text-anchor="middle" font-size="7.8" font-weight="bold" class="s">1</text>
<text x="2023.13" y="1100.2" text-anchor="middle" font-size="7.8" font-weight="bold" class="s">2</text>
<text x="2031.92" y="1100.2" text-anchor="middle" font-size="7.8" font-weight="bold" class="s">1</text>
<text x="2040.7" y="1100.2" text-anchor="middle" font-size="7.8" font-weight="bold" class="s">2</text>
<text x="2049.49" y="1100.2" text-anchor="middle" font-size="7.8" font-weight="bold" class="s">3</text>
<text x="2058.27" y="1100.2" text-anchor="middle" font-size="7.8" font-weight="bold" class="s">1</text>
<rect x="2065.3" y="1081.4" width="3.5" height="0.7" fill="#643ca6"/>
<text x="2067.05" y="1100.2" text-anchor="middle" font-size="7.8" font-weight="bold" class="s">2</text>
<text x="2075.84" y="1100.2" text-anchor="middle" font-size="7.8" font-weight="bold" class="s">3</text>
<text x="2084.62" y="1100.2" text-anchor="middle" font-size="7.8" font-weight="bold" class="s">4</text>
<text x="2093.41" y="1100.2" text-anchor="middle" font-size="7.8" font-weight="bold" class="s">5+</text>
<rect x="1368.7" y="941" width="729.1" height="141.1" fill="none" stroke="#4d4d4d" stroke-width="1.1"/>
<line x1="1368.7" y1="1082.1" x2="2097.8" y2="1082.1" stroke="#444" stroke-width="0.9" stroke-dasharray="3.6 2"/>
<text x="1367.2" y="944" text-anchor="end" font-size="7.6" font-weight="bold" class="s">8%</text>
<text x="1367.2" y="979.3" text-anchor="end" font-size="7.6" font-weight="bold" class="s">1%</text>
<text x="1367.2" y="1014.5" text-anchor="end" font-size="7.6" font-weight="bold" class="s">4%</text>
<text x="1367.2" y="1049.8" text-anchor="end" font-size="7.6" font-weight="bold" class="s">7%</text>
<text x="1367.2" y="1084.8" text-anchor="end" font-size="7.6" font-weight="bold" class="s">0</text>
<text x="1369.4" y="962.3" font-size="23.6">ID3</text>
<text x="1410.4" y="964.4" font-size="20.5">Smoking-Associated Indel</text>
<text x="1671" y="964.4" font-size="20.6">Sig Mutations: 740 (46.6%) vs 261 (18.7%)</text>
<text x="1420.6" y="1109.8" text-anchor="middle" font-size="8.75" font-weight="bold" class="s">Homopolymer Length</text>
<text x="1525.2" y="1109.8" text-anchor="middle" font-size="8.75" font-weight="bold" class="s">Homopolymer Length</text>
<text x="1687.4" y="1109.8" text-anchor="middle" font-size="8.75" font-weight="bold" class="s">Number of Repeat Units</text>
<text x="1893.5" y="1109.8" text-anchor="middle" font-size="8.75" font-weight="bold" class="s">Number of Repeat Units</text>
<text x="2046" y="1109.8" text-anchor="middle" font-size="9.6" font-weight="bold" class="s">Microhomology Length</text>
<rect x="1368.1" y="1141" width="77.8" height="8.2" fill="#1ebcec"/>
<text x="1407" y="1139" text-anchor="middle" font-size="9.6" font-weight="bold">AC&gt;NN</text>
<rect x="1451.1" y="1141" width="51.4" height="8.2" fill="#2b66b1"/>
<text x="1476.8" y="1139" text-anchor="middle" font-size="9.6" font-weight="bold">AT&gt;NN</text>
<rect x="1507.7" y="1141" width="78.8" height="8.2" fill="#a0d063"/>
<text x="1547.1" y="1139" text-anchor="middle" font-size="9.6" font-weight="bold">CC&gt;NN</text>
<rect x="1591.6" y="1141" width="51.7" height="8.2" fill="#1a6934"/>
<text x="1617.45" y="1139" text-anchor="middle" font-size="9.6" font-weight="bold">CG&gt;NN</text>
<rect x="1648.4" y="1141" width="78.4" height="8.2" fill="#f39a9b"/>
<text x="1687.6" y="1139" text-anchor="middle" font-size="9.6" font-weight="bold">CT&gt;NN</text>
<rect x="1732.4" y="1141" width="51.5" height="8.2" fill="#e32926"/>
<text x="1758.15" y="1139" text-anchor="middle" font-size="9.6" font-weight="bold">GC&gt;NN</text>
<rect x="1789.5" y="1141" width="51.3" height="8.2" fill="#fdb26a"/>
<text x="1815.15" y="1139" text-anchor="middle" font-size="9.6" font-weight="bold">TA&gt;NN</text>
<rect x="1846.2" y="1141" width="78.1" height="8.2" fill="#f58220"/>
<text x="1885.25" y="1139" text-anchor="middle" font-size="9.6" font-weight="bold">TC&gt;NN</text>
<rect x="1929.7" y="1141" width="78.6" height="8.2" fill="#bc9dd6"/>
<text x="1969" y="1139" text-anchor="middle" font-size="9.6" font-weight="bold">TG&gt;NN</text>
<rect x="2013.6" y="1141" width="78.6" height="8.2" fill="#4d2d91"/>
<text x="2052.9" y="1139" text-anchor="middle" font-size="9.6" font-weight="bold">TT&gt;NN</text>
<rect x="1366" y="1151.1" width="730.8" height="132.6" fill="none" stroke="#555" stroke-width="1.2"/>
<text x="1364.6" y="1153.4" text-anchor="end" font-size="5.2" font-weight="bold" fill="#333">5%</text>
<text x="1364.6" y="1186.1" text-anchor="end" font-size="5.2" font-weight="bold" fill="#333">3%</text>
<line x1="1366.5" y1="1184.2" x2="1373" y2="1184.2" stroke="#e3e3e3" stroke-width="0.8"/>
<line x1="2089" y1="1184.2" x2="2096" y2="1184.2" stroke="#e3e3e3" stroke-width="0.8"/>
<text x="1364.6" y="1219.7" text-anchor="end" font-size="5.2" font-weight="bold" fill="#333">2%</text>
<line x1="1366.5" y1="1217.8" x2="1373" y2="1217.8" stroke="#e3e3e3" stroke-width="0.8"/>
<line x1="2089" y1="1217.8" x2="2096" y2="1217.8" stroke="#e3e3e3" stroke-width="0.8"/>
<text x="1364.6" y="1252.9" text-anchor="end" font-size="5.2" font-weight="bold" fill="#333">1%</text>
<line x1="1366.5" y1="1251" x2="1373" y2="1251" stroke="#e3e3e3" stroke-width="0.8"/>
<line x1="2089" y1="1251" x2="2096" y2="1251" stroke="#e3e3e3" stroke-width="0.8"/>
<text x="1364.6" y="1285.7" text-anchor="end" font-size="5.2" font-weight="bold" fill="#333">0</text>
<rect x="1509.37" y="1179.5" width="3.7" height="104.2" fill="#a0d063"/>
<rect x="1518.74" y="1273.8" width="3.7" height="9.9" fill="#a0d063"/>
<rect x="1528.11" y="1269.7" width="3.7" height="14" fill="#a0d063"/>
<rect x="1537.48" y="1281.1" width="3.7" height="2.6" fill="#a0d063"/>
<rect x="1565.59" y="1281.5" width="3.7" height="2.2" fill="#a0d063"/>
<rect x="1640.54" y="1282.9" width="3.7" height="0.8" fill="#a0d063"/>
<text transform="translate(1372.58 1293.6) rotate(-90)" font-size="5.3" fill="#7a7a7a" font-weight="bold">CA</text>
<text transform="translate(1381.95 1293.6) rotate(-90)" font-size="5.3" fill="#7a7a7a" font-weight="bold">CG</text>
<text transform="translate(1391.32 1293.6) rotate(-90)" font-size="5.3" fill="#7a7a7a" font-weight="bold">CT</text>
<text transform="translate(1400.69 1293.6) rotate(-90)" font-size="5.3" fill="#7a7a7a" font-weight="bold">GA</text>
<text transform="translate(1410.06 1293.6) rotate(-90)" font-size="5.3" fill="#7a7a7a" font-weight="bold">GG</text>
<text transform="translate(1419.43 1293.6) rotate(-90)" font-size="5.3" fill="#7a7a7a" font-weight="bold">GT</text>
<text transform="translate(1428.8 1293.6) rotate(-90)" font-size="5.3" fill="#7a7a7a" font-weight="bold">TA</text>
<text transform="translate(1438.17 1293.6) rotate(-90)" font-size="5.3" fill="#7a7a7a" font-weight="bold">TG</text>
<text transform="translate(1447.54 1293.6) rotate(-90)" font-size="5.3" fill="#7a7a7a" font-weight="bold">TT</text>
<text transform="translate(1456.91 1293.6) rotate(-90)" font-size="5.3" fill="#7a7a7a" font-weight="bold">CA</text>
<text transform="translate(1466.28 1293.6) rotate(-90)" font-size="5.3" fill="#7a7a7a" font-weight="bold">CC</text>
<text transform="translate(1475.65 1293.6) rotate(-90)" font-size="5.3" fill="#7a7a7a" font-weight="bold">CG</text>
<text transform="translate(1485.02 1293.6) rotate(-90)" font-size="5.3" fill="#7a7a7a" font-weight="bold">GA</text>
<text transform="translate(1494.38 1293.6) rotate(-90)" font-size="5.3" fill="#7a7a7a" font-weight="bold">GC</text>
<text transform="translate(1503.75 1293.6) rotate(-90)" font-size="5.3" fill="#7a7a7a" font-weight="bold">TA</text>
<text transform="translate(1513.12 1293.6) rotate(-90)" font-size="5.3" fill="#7a7a7a" font-weight="bold">CA</text>
<text transform="translate(1522.49 1293.6) rotate(-90)" font-size="5.3" fill="#7a7a7a" font-weight="bold">CG</text>
<text transform="translate(1531.86 1293.6) rotate(-90)" font-size="5.3" fill="#7a7a7a" font-weight="bold">CT</text>
<text transform="translate(1541.23 1293.6) rotate(-90)" font-size="5.3" fill="#7a7a7a" font-weight="bold">GA</text>
<text transform="translate(1550.6 1293.6) rotate(-90)" font-size="5.3" fill="#7a7a7a" font-weight="bold">GG</text>
<text transform="translate(1559.97 1293.6) rotate(-90)" font-size="5.3" fill="#7a7a7a" font-weight="bold">GT</text>
<text transform="translate(1569.34 1293.6) rotate(-90)" font-size="5.3" fill="#7a7a7a" font-weight="bold">TA</text>
<text transform="translate(1578.71 1293.6) rotate(-90)" font-size="5.3" fill="#7a7a7a" font-weight="bold">TG</text>
<text transform="translate(1588.08 1293.6) rotate(-90)" font-size="5.3" fill="#7a7a7a" font-weight="bold">TT</text>
<text transform="translate(1597.45 1293.6) rotate(-90)" font-size="5.3" fill="#7a7a7a" font-weight="bold">CA</text>
<text transform="translate(1606.82 1293.6) rotate(-90)" font-size="5.3" fill="#7a7a7a" font-weight="bold">CC</text>
<text transform="translate(1616.18 1293.6) rotate(-90)" font-size="5.3" fill="#7a7a7a" font-weight="bold">CG</text>
<text transform="translate(1625.55 1293.6) rotate(-90)" font-size="5.3" fill="#7a7a7a" font-weight="bold">GA</text>
<text transform="translate(1634.92 1293.6) rotate(-90)" font-size="5.3" fill="#7a7a7a" font-weight="bold">GC</text>
<text transform="translate(1644.29 1293.6) rotate(-90)" font-size="5.3" fill="#7a7a7a" font-weight="bold">TA</text>
<text transform="translate(1653.66 1293.6) rotate(-90)" font-size="5.3" fill="#7a7a7a" font-weight="bold">CA</text>
<text transform="translate(1663.03 1293.6) rotate(-90)" font-size="5.3" fill="#7a7a7a" font-weight="bold">CG</text>
<text transform="translate(1672.4 1293.6) rotate(-90)" font-size="5.3" fill="#7a7a7a" font-weight="bold">CT</text>
<text transform="translate(1681.77 1293.6) rotate(-90)" font-size="5.3" fill="#7a7a7a" font-weight="bold">GA</text>
<text transform="translate(1691.14 1293.6) rotate(-90)" font-size="5.3" fill="#7a7a7a" font-weight="bold">GG</text>
<text transform="translate(1700.51 1293.6) rotate(-90)" font-size="5.3" fill="#7a7a7a" font-weight="bold">GT</text>
<text transform="translate(1709.88 1293.6) rotate(-90)" font-size="5.3" fill="#7a7a7a" font-weight="bold">TA</text>
<text transform="translate(1719.25 1293.6) rotate(-90)" font-size="5.3" fill="#7a7a7a" font-weight="bold">TG</text>
<text transform="translate(1728.62 1293.6) rotate(-90)" font-size="5.3" fill="#7a7a7a" font-weight="bold">TT</text>
<text transform="translate(1737.98 1293.6) rotate(-90)" font-size="5.3" fill="#7a7a7a" font-weight="bold">CA</text>
<text transform="translate(1747.35 1293.6) rotate(-90)" font-size="5.3" fill="#7a7a7a" font-weight="bold">CC</text>
<text transform="translate(1756.72 1293.6) rotate(-90)" font-size="5.3" fill="#7a7a7a" font-weight="bold">CG</text>
<text transform="translate(1766.09 1293.6) rotate(-90)" font-size="5.3" fill="#7a7a7a" font-weight="bold">GA</text>
<text transform="translate(1775.46 1293.6) rotate(-90)" font-size="5.3" fill="#7a7a7a" font-weight="bold">GC</text>
<text transform="translate(1784.83 1293.6) rotate(-90)" font-size="5.3" fill="#7a7a7a" font-weight="bold">TA</text>
<text transform="translate(1794.2 1293.6) rotate(-90)" font-size="5.3" fill="#7a7a7a" font-weight="bold">CA</text>
<text transform="translate(1803.57 1293.6) rotate(-90)" font-size="5.3" fill="#7a7a7a" font-weight="bold">CC</text>
<text transform="translate(1812.94 1293.6) rotate(-90)" font-size="5.3" fill="#7a7a7a" font-weight="bold">CG</text>
<text transform="translate(1822.31 1293.6) rotate(-90)" font-size="5.3" fill="#7a7a7a" font-weight="bold">GA</text>
<text transform="translate(1831.68 1293.6) rotate(-90)" font-size="5.3" fill="#7a7a7a" font-weight="bold">GC</text>
<text transform="translate(1841.05 1293.6) rotate(-90)" font-size="5.3" fill="#7a7a7a" font-weight="bold">TA</text>
<text transform="translate(1850.42 1293.6) rotate(-90)" font-size="5.3" fill="#7a7a7a" font-weight="bold">CA</text>
<text transform="translate(1859.78 1293.6) rotate(-90)" font-size="5.3" fill="#7a7a7a" font-weight="bold">CG</text>
<text transform="translate(1869.15 1293.6) rotate(-90)" font-size="5.3" fill="#7a7a7a" font-weight="bold">CT</text>
<text transform="translate(1878.52 1293.6) rotate(-90)" font-size="5.3" fill="#7a7a7a" font-weight="bold">GA</text>
<text transform="translate(1887.89 1293.6) rotate(-90)" font-size="5.3" fill="#7a7a7a" font-weight="bold">GG</text>
<text transform="translate(1897.26 1293.6) rotate(-90)" font-size="5.3" fill="#7a7a7a" font-weight="bold">GT</text>
<text transform="translate(1906.63 1293.6) rotate(-90)" font-size="5.3" fill="#7a7a7a" font-weight="bold">TA</text>
<text transform="translate(1916 1293.6) rotate(-90)" font-size="5.3" fill="#7a7a7a" font-weight="bold">TG</text>
<text transform="translate(1925.37 1293.6) rotate(-90)" font-size="5.3" fill="#7a7a7a" font-weight="bold">TT</text>
<text transform="translate(1934.74 1293.6) rotate(-90)" font-size="5.3" fill="#7a7a7a" font-weight="bold">CA</text>
<text transform="translate(1944.11 1293.6) rotate(-90)" font-size="5.3" fill="#7a7a7a" font-weight="bold">CG</text>
<text transform="translate(1953.48 1293.6) rotate(-90)" font-size="5.3" fill="#7a7a7a" font-weight="bold">CT</text>
<text transform="translate(1962.85 1293.6) rotate(-90)" font-size="5.3" fill="#7a7a7a" font-weight="bold">GA</text>
<text transform="translate(1972.22 1293.6) rotate(-90)" font-size="5.3" fill="#7a7a7a" font-weight="bold">GG</text>
<text transform="translate(1981.58 1293.6) rotate(-90)" font-size="5.3" fill="#7a7a7a" font-weight="bold">GT</text>
<text transform="translate(1990.95 1293.6) rotate(-90)" font-size="5.3" fill="#7a7a7a" font-weight="bold">TA</text>
<text transform="translate(2000.32 1293.6) rotate(-90)" font-size="5.3" fill="#7a7a7a" font-weight="bold">TG</text>
<text transform="translate(2009.69 1293.6) rotate(-90)" font-size="5.3" fill="#7a7a7a" font-weight="bold">TT</text>
<text transform="translate(2019.06 1293.6) rotate(-90)" font-size="5.3" fill="#7a7a7a" font-weight="bold">CA</text>
<text transform="translate(2028.43 1293.6) rotate(-90)" font-size="5.3" fill="#7a7a7a" font-weight="bold">CG</text>
<text transform="translate(2037.8 1293.6) rotate(-90)" font-size="5.3" fill="#7a7a7a" font-weight="bold">CT</text>
<text transform="translate(2047.17 1293.6) rotate(-90)" font-size="5.3" fill="#7a7a7a" font-weight="bold">GA</text>
<text transform="translate(2056.54 1293.6) rotate(-90)" font-size="5.3" fill="#7a7a7a" font-weight="bold">GG</text>
<text transform="translate(2065.91 1293.6) rotate(-90)" font-size="5.3" fill="#7a7a7a" font-weight="bold">GT</text>
<text transform="translate(2075.28 1293.6) rotate(-90)" font-size="5.3" fill="#7a7a7a" font-weight="bold">TA</text>
<text transform="translate(2084.65 1293.6) rotate(-90)" font-size="5.3" fill="#7a7a7a" font-weight="bold">TG</text>
<text transform="translate(2094.02 1293.6) rotate(-90)" font-size="5.3" fill="#7a7a7a" font-weight="bold">TT</text>
<text x="1371.6" y="1171.8" font-size="22.7">DBS2</text>
<text x="1449" y="1171.8" font-size="20.5">Acetaldehyde</text>
<text x="1671" y="1174.6" font-size="20.6">Sig Mutations: 71 (44.7%) vs 38 (15%)</text>
<text x="1422" y="1313.2" text-anchor="middle" font-size="20.4">1 bp</text>
<text x="1423.9" y="1329.8" text-anchor="middle" font-size="20.4">deletion</text>
<text x="1525.7" y="1313.6" text-anchor="middle" font-size="20.4">1 bp</text>
<text x="1527.8" y="1330" text-anchor="middle" font-size="20.4">insertion</text>
<text x="1812.4" y="1310" text-anchor="end" font-size="20.5">&gt;1 bp deletion at repeats</text>
<text x="1775.4" y="1326.9" text-anchor="end" font-size="20.5">(deletion length)</text>
<text x="1896.8" y="1316.8" text-anchor="middle" font-size="10" font-weight="bold" class="s">&gt;1bp Insertions at Repeats</text>
<text x="1896.8" y="1327.3" text-anchor="middle" font-size="10" font-weight="bold" class="s">(Insertion Length)</text>
<text x="2042.9" y="1316.8" text-anchor="middle" font-size="10" font-weight="bold" class="s">Microhomology</text>
<text x="2042.9" y="1327.3" text-anchor="middle" font-size="10" font-weight="bold" class="s">(Deletion Length)</text>
<rect x="1367" y="1334.9" width="47.5" height="10.3" fill="#fdbe6f"/>
<rect x="1367" y="1490.1" width="47.5" height="10.1" fill="#fdbe6f"/>
<text x="1390.75" y="1343.1" text-anchor="middle" font-size="9.6" font-weight="bold" class="s" fill="#000">C</text>
<rect x="1420" y="1334.9" width="47.5" height="10.3" fill="#f57f20"/>
<rect x="1420" y="1490.1" width="47.5" height="10.1" fill="#f57f20"/>
<text x="1443.75" y="1343.1" text-anchor="middle" font-size="9.6" font-weight="bold" class="s" fill="#fff">T</text>
<rect x="1473" y="1334.9" width="47.5" height="10.3" fill="#b0dc8a"/>
<rect x="1473" y="1490.1" width="47.5" height="10.1" fill="#b0dc8a"/>
<text x="1496.75" y="1343.1" text-anchor="middle" font-size="9.6" font-weight="bold" class="s" fill="#000">C</text>
<rect x="1526" y="1334.9" width="47.5" height="10.3" fill="#36a047"/>
<rect x="1526" y="1490.1" width="47.5" height="10.1" fill="#36a047"/>
<text x="1549.75" y="1343.1" text-anchor="middle" font-size="9.6" font-weight="bold" class="s" fill="#fff">T</text>
<rect x="1579" y="1334.9" width="47.5" height="10.3" fill="#fbc9b5"/>
<rect x="1579" y="1490.1" width="47.5" height="10.1" fill="#fbc9b5"/>
<text x="1602.75" y="1343.1" text-anchor="middle" font-size="9.6" font-weight="bold" class="s" fill="#000">2</text>
<rect x="1632" y="1334.9" width="47.5" height="10.3" fill="#f18a6b"/>
<rect x="1632" y="1490.1" width="47.5" height="10.1" fill="#f18a6b"/>
<text x="1655.75" y="1343.1" text-anchor="middle" font-size="9.6" font-weight="bold" class="s" fill="#000">3</text>
<rect x="1685" y="1334.9" width="47.5" height="10.3" fill="#ef4432"/>
<rect x="1685" y="1490.1" width="47.5" height="10.1" fill="#ef4432"/>
<text x="1708.75" y="1343.1" text-anchor="middle" font-size="9.6" font-weight="bold" class="s" fill="#000">4</text>
<rect x="1738" y="1334.9" width="47.5" height="10.3" fill="#c4202c"/>
<rect x="1738" y="1490.1" width="47.5" height="10.1" fill="#c4202c"/>
<text x="1761.75" y="1343.1" text-anchor="middle" font-size="9.6" font-weight="bold" class="s" fill="#fff">5+</text>
<rect x="1791" y="1334.9" width="47.5" height="10.3" fill="#cfe1f2"/>
<rect x="1791" y="1490.1" width="47.5" height="10.1" fill="#cfe1f2"/>
<text x="1814.75" y="1343.1" text-anchor="middle" font-size="9.6" font-weight="bold" class="s" fill="#000">2</text>
<rect x="1844" y="1334.9" width="47.5" height="10.3" fill="#94c4e0"/>
<rect x="1844" y="1490.1" width="47.5" height="10.1" fill="#94c4e0"/>
<text x="1867.75" y="1343.1" text-anchor="middle" font-size="9.6" font-weight="bold" class="s" fill="#000">3</text>
<rect x="1897" y="1334.9" width="47.5" height="10.3" fill="#4a93ce"/>
<rect x="1897" y="1490.1" width="47.5" height="10.1" fill="#4a93ce"/>
<text x="1920.75" y="1343.1" text-anchor="middle" font-size="9.6" font-weight="bold" class="s" fill="#000">4</text>
<rect x="1950" y="1334.9" width="47.5" height="10.3" fill="#1c63ae"/>
<rect x="1950" y="1490.1" width="47.5" height="10.1" fill="#1c63ae"/>
<text x="1973.75" y="1343.1" text-anchor="middle" font-size="9.6" font-weight="bold" class="s" fill="#fff">5+</text>
<rect x="2000.3" y="1334.9" width="7" height="10.3" fill="#fff"/>
<rect x="2000.3" y="1490.1" width="7" height="10.1" fill="#e4e4f1"/>
<text x="2003.8" y="1343.1" text-anchor="middle" font-size="9.6" font-weight="bold" class="s" fill="#000">2</text>
<rect x="2011.6" y="1334.9" width="12.2" height="10.3" fill="#b5b7dd"/>
<rect x="2011.6" y="1490.1" width="12.2" height="10.1" fill="#b5b7dd"/>
<text x="2017.7" y="1343.1" text-anchor="middle" font-size="9.6" font-weight="bold" class="s" fill="#000">3</text>
<rect x="2029.2" y="1334.9" width="20.8" height="10.3" fill="#8686c4"/>
<rect x="2029.2" y="1490.1" width="20.8" height="10.1" fill="#8686c4"/>
<text x="2039.6" y="1343.1" text-anchor="middle" font-size="9.6" font-weight="bold" class="s" fill="#000">4</text>
<rect x="2055.6" y="1334.9" width="39" height="10.3" fill="#643ca6"/>
<rect x="2055.6" y="1490.1" width="39" height="10.1" fill="#643ca6"/>
<text x="2075.1" y="1343.1" text-anchor="middle" font-size="9.6" font-weight="bold" class="s" fill="#fff">5+</text>
<rect x="1368.66" y="1473.05" width="3.5" height="15.55" fill="#fdbe6f"/>
<text x="1370.41" y="1507.5" text-anchor="middle" font-size="7.8" font-weight="bold" class="s">1</text>
<rect x="1377.49" y="1479.27" width="3.5" height="9.33" fill="#fdbe6f"/>
<text x="1379.24" y="1507.5" text-anchor="middle" font-size="7.8" font-weight="bold" class="s">2</text>
<text x="1388.06" y="1507.5" text-anchor="middle" font-size="7.8" font-weight="bold" class="s">3</text>
<rect x="1395.13" y="1487.56" width="3.5" height="1.04" fill="#fdbe6f"/>
<text x="1396.88" y="1507.5" text-anchor="middle" font-size="7.8" font-weight="bold" class="s">4</text>
<rect x="1403.96" y="1486.94" width="3.5" height="1.66" fill="#fdbe6f"/>
<text x="1405.71" y="1507.5" text-anchor="middle" font-size="7.8" font-weight="bold" class="s">5</text>
<text x="1414.53" y="1507.5" text-anchor="middle" font-size="7.8" font-weight="bold" class="s">6+</text>
<rect x="1421.61" y="1475.12" width="3.5" height="13.48" fill="#f57f20"/>
<text x="1423.36" y="1507.5" text-anchor="middle" font-size="7.8" font-weight="bold" class="s">1</text>
<rect x="1430.43" y="1484.45" width="3.5" height="4.15" fill="#f57f20"/>
<text x="1432.18" y="1507.5" text-anchor="middle" font-size="7.8" font-weight="bold" class="s">2</text>
<rect x="1439.25" y="1485.08" width="3.5" height="3.52" fill="#f57f20"/>
<text x="1441" y="1507.5" text-anchor="middle" font-size="7.8" font-weight="bold" class="s">3</text>
<rect x="1448.08" y="1484.45" width="3.5" height="4.15" fill="#f57f20"/>
<text x="1449.83" y="1507.5" text-anchor="middle" font-size="7.8" font-weight="bold" class="s">4</text>
<text x="1458.65" y="1507.5" text-anchor="middle" font-size="7.8" font-weight="bold" class="s">5</text>
<rect x="1465.73" y="1484.45" width="3.5" height="4.15" fill="#f57f20"/>
<text x="1467.48" y="1507.5" text-anchor="middle" font-size="7.8" font-weight="bold" class="s">6+</text>
<text x="1476.3" y="1507.5" text-anchor="middle" font-size="7.8" font-weight="bold" class="s">0</text>
<text x="1485.13" y="1507.5" text-anchor="middle" font-size="7.8" font-weight="bold" class="s">1</text>
<text x="1493.95" y="1507.5" text-anchor="middle" font-size="7.8" font-weight="bold" class="s">2</text>
<text x="1502.77" y="1507.5" text-anchor="middle" font-size="7.8" font-weight="bold" class="s">3</text>
<text x="1511.6" y="1507.5" text-anchor="middle" font-size="7.8" font-weight="bold" class="s">4</text>
<text x="1520.42" y="1507.5" text-anchor="middle" font-size="7.8" font-weight="bold" class="s">5+</text>
<rect x="1527.5" y="1486.94" width="3.5" height="1.66" fill="#36a047"/>
<text x="1529.25" y="1507.5" text-anchor="middle" font-size="7.8" font-weight="bold" class="s">0</text>
<rect x="1536.32" y="1487.15" width="3.5" height="1.45" fill="#36a047"/>
<text x="1538.07" y="1507.5" text-anchor="middle" font-size="7.8" font-weight="bold" class="s">1</text>
<text x="1546.89" y="1507.5" text-anchor="middle" font-size="7.8" font-weight="bold" class="s">2</text>
<text x="1555.72" y="1507.5" text-anchor="middle" font-size="7.8" font-weight="bold" class="s">3</text>
<text x="1564.54" y="1507.5" text-anchor="middle" font-size="7.8" font-weight="bold" class="s">4</text>
<rect x="1571.62" y="1480.31" width="3.5" height="8.29" fill="#36a047"/>
<text x="1573.37" y="1507.5" text-anchor="middle" font-size="7.8" font-weight="bold" class="s">5+</text>
<rect x="1580.44" y="1485.9" width="3.5" height="2.7" fill="#fbc9b5"/>
<text x="1582.19" y="1507.5" text-anchor="middle" font-size="7.8" font-weight="bold" class="s">1</text>
<rect x="1589.26" y="1484.66" width="3.5" height="3.94" fill="#fbc9b5"/>
<text x="1591.01" y="1507.5" text-anchor="middle" font-size="7.8" font-weight="bold" class="s">2</text>
<text x="1599.84" y="1507.5" text-anchor="middle" font-size="7.8" font-weight="bold" class="s">3</text>
<text x="1608.66" y="1507.5" text-anchor="middle" font-size="7.8" font-weight="bold" class="s">4</text>
<text x="1617.49" y="1507.5" text-anchor="middle" font-size="7.8" font-weight="bold" class="s">5</text>
<text x="1626.31" y="1507.5" text-anchor="middle" font-size="7.8" font-weight="bold" class="s">6+</text>
<rect x="1633.38" y="1484.45" width="3.5" height="4.15" fill="#f18a6b"/>
<text x="1635.13" y="1507.5" text-anchor="middle" font-size="7.8" font-weight="bold" class="s">1</text>
<text x="1643.96" y="1507.5" text-anchor="middle" font-size="7.8" font-weight="bold" class="s">2</text>
<text x="1652.78" y="1507.5" text-anchor="middle" font-size="7.8" font-weight="bold" class="s">3</text>
<text x="1661.61" y="1507.5" text-anchor="middle" font-size="7.8" font-weight="bold" class="s">4</text>
<text x="1670.43" y="1507.5" text-anchor="middle" font-size="7.8" font-weight="bold" class="s">5</text>
<text x="1679.26" y="1507.5" text-anchor="middle" font-size="7.8" font-weight="bold" class="s">6+</text>
<rect x="1686.33" y="1485.9" width="3.5" height="2.7" fill="#ef4432"/>
<text x="1688.08" y="1507.5" text-anchor="middle" font-size="7.8" font-weight="bold" class="s">1</text>
<text x="1696.9" y="1507.5" text-anchor="middle" font-size="7.8" font-weight="bold" class="s">2</text>
<text x="1705.73" y="1507.5" text-anchor="middle" font-size="7.8" font-weight="bold" class="s">3</text>
<text x="1714.55" y="1507.5" text-anchor="middle" font-size="7.8" font-weight="bold" class="s">4</text>
<text x="1723.38" y="1507.5" text-anchor="middle" font-size="7.8" font-weight="bold" class="s">5</text>
<text x="1732.2" y="1507.5" text-anchor="middle" font-size="7.8" font-weight="bold" class="s">6+</text>
<rect x="1739.27" y="1395.3" width="3.5" height="93.3" fill="#c4202c"/>
<text x="1741.02" y="1507.5" text-anchor="middle" font-size="7.8" font-weight="bold" class="s">1</text>
<text x="1749.85" y="1507.5" text-anchor="middle" font-size="7.8" font-weight="bold" class="s">2</text>
<text x="1758.67" y="1507.5" text-anchor="middle" font-size="7.8" font-weight="bold" class="s">3</text>
<text x="1767.5" y="1507.5" text-anchor="middle" font-size="7.8" font-weight="bold" class="s">4</text>
<text x="1776.32" y="1507.5" text-anchor="middle" font-size="7.8" font-weight="bold" class="s">5</text>
<text x="1785.14" y="1507.5" text-anchor="middle" font-size="7.8" font-weight="bold" class="s">6+</text>
<text x="1793.97" y="1507.5" text-anchor="middle" font-size="7.8" font-weight="bold" class="s">0</text>
<text x="1802.79" y="1507.5" text-anchor="middle" font-size="7.8" font-weight="bold" class="s">1</text>
<text x="1811.62" y="1507.5" text-anchor="middle" font-size="7.8" font-weight="bold" class="s">2</text>
<text x="1820.44" y="1507.5" text-anchor="middle" font-size="7.8" font-weight="bold" class="s">3</text>
<text x="1829.27" y="1507.5" text-anchor="middle" font-size="7.8" font-weight="bold" class="s">4</text>
<text x="1838.09" y="1507.5" text-anchor="middle" font-size="7.8" font-weight="bold" class="s">5+</text>
<text x="1846.91" y="1507.5" text-anchor="middle" font-size="7.8" font-weight="bold" class="s">0</text>
<text x="1855.74" y="1507.5" text-anchor="middle" font-size="7.8" font-weight="bold" class="s">1</text>
<text x="1864.56" y="1507.5" text-anchor="middle" font-size="7.8" font-weight="bold" class="s">2</text>
<text x="1873.39" y="1507.5" text-anchor="middle" font-size="7.8" font-weight="bold" class="s">3</text>
<text x="1882.21" y="1507.5" text-anchor="middle" font-size="7.8" font-weight="bold" class="s">4</text>
<text x="1891.03" y="1507.5" text-anchor="middle" font-size="7.8" font-weight="bold" class="s">5+</text>
<text x="1899.86" y="1507.5" text-anchor="middle" font-size="7.8" font-weight="bold" class="s">0</text>
<text x="1908.68" y="1507.5" text-anchor="middle" font-size="7.8" font-weight="bold" class="s">1</text>
<text x="1917.51" y="1507.5" text-anchor="middle" font-size="7.8" font-weight="bold" class="s">2</text>
<text x="1926.33" y="1507.5" text-anchor="middle" font-size="7.8" font-weight="bold" class="s">3</text>
<text x="1935.15" y="1507.5" text-anchor="middle" font-size="7.8" font-weight="bold" class="s">4</text>
<text x="1943.98" y="1507.5" text-anchor="middle" font-size="7.8" font-weight="bold" class="s">5+</text>
<text x="1952.8" y="1507.5" text-anchor="middle" font-size="7.8" font-weight="bold" class="s">0</text>
<rect x="1959.88" y="1484.8" width="3.5" height="3.8" fill="#1c63ae"/>
<text x="1961.63" y="1507.5" text-anchor="middle" font-size="7.8" font-weight="bold" class="s">1</text>
<text x="1970.45" y="1507.5" text-anchor="middle" font-size="7.8" font-weight="bold" class="s">2</text>
<text x="1979.27" y="1507.5" text-anchor="middle" font-size="7.8" font-weight="bold" class="s">3</text>
<text x="1988.1" y="1507.5" text-anchor="middle" font-size="7.8" font-weight="bold" class="s">4</text>
<text x="1996.92" y="1507.5" text-anchor="middle" font-size="7.8" font-weight="bold" class="s">5+</text>
<text x="2005.75" y="1507.5" text-anchor="middle" font-size="7.8" font-weight="bold" class="s">1</text>
<rect x="2012.82" y="1485.4" width="3.5" height="3.2" fill="#b5b7dd"/>
<text x="2014.57" y="1507.5" text-anchor="middle" font-size="7.8" font-weight="bold" class="s">1</text>
<text x="2023.4" y="1507.5" text-anchor="middle" font-size="7.8" font-weight="bold" class="s">2</text>
<rect x="2030.47" y="1486.8" width="3.5" height="1.8" fill="#8686c4"/>
<text x="2032.22" y="1507.5" text-anchor="middle" font-size="7.8" font-weight="bold" class="s">1</text>
<text x="2041.04" y="1507.5" text-anchor="middle" font-size="7.8" font-weight="bold" class="s">2</text>
<text x="2049.87" y="1507.5" text-anchor="middle" font-size="7.8" font-weight="bold" class="s">3</text>
<rect x="2056.94" y="1378.4" width="3.5" height="110.2" fill="#643ca6"/>
<text x="2058.69" y="1507.5" text-anchor="middle" font-size="7.8" font-weight="bold" class="s">1</text>
<rect x="2065.77" y="1440.1" width="3.5" height="48.5" fill="#643ca6"/>
<text x="2067.52" y="1507.5" text-anchor="middle" font-size="7.8" font-weight="bold" class="s">2</text>
<rect x="2074.59" y="1470.7" width="3.5" height="17.9" fill="#643ca6"/>
<text x="2076.34" y="1507.5" text-anchor="middle" font-size="7.8" font-weight="bold" class="s">3</text>
<rect x="2083.41" y="1482.2" width="3.5" height="6.4" fill="#643ca6"/>
<text x="2085.16" y="1507.5" text-anchor="middle" font-size="7.8" font-weight="bold" class="s">4</text>
<rect x="2092.24" y="1483.6" width="3.5" height="5" fill="#643ca6"/>
<text x="2093.99" y="1507.5" text-anchor="middle" font-size="7.8" font-weight="bold" class="s">5+</text>
<rect x="1366" y="1346.8" width="732.4" height="141.8" fill="none" stroke="#4d4d4d" stroke-width="1.1"/>
<line x1="1366" y1="1488.6" x2="2098.4" y2="1488.6" stroke="#444" stroke-width="0.9" stroke-dasharray="3.6 2"/>
<text x="1364.5" y="1350.2" text-anchor="end" font-size="7.6" font-weight="bold" class="s">36%</text>
<text x="1364.5" y="1385.5" text-anchor="end" font-size="7.6" font-weight="bold" class="s">27%</text>
<text x="1364.5" y="1421.1" text-anchor="end" font-size="7.6" font-weight="bold" class="s">18%</text>
<text x="1364.5" y="1456.4" text-anchor="end" font-size="7.6" font-weight="bold" class="s">9%</text>
<text x="1364.5" y="1491.2" text-anchor="end" font-size="7.6" font-weight="bold" class="s">0</text>
<text x="1371" y="1369.8" font-size="22.7">ID8</text>
<text x="1453" y="1369.8" font-size="20.5">NHEJ</text>
<text x="1671" y="1369.8" font-size="20.6">Sig Mutations: 307 (19.3%) vs 52 (3.7%)</text>
<line x1="1366" y1="1514.6" x2="1573" y2="1514.6" stroke="#222" stroke-width="1.1"/>
<line x1="1578.6" y1="1515.2" x2="1994" y2="1515.2" stroke="#222" stroke-width="1.1"/>
<line x1="2001.9" y1="1515.4" x2="2096.8" y2="1515.4" stroke="#222" stroke-width="1.1"/>
<text x="1467" y="1535.6" text-anchor="middle" font-size="20.5">homopolymer length</text>
<text x="1794" y="1534.6" text-anchor="middle" font-size="20.5">number of repeat units</text>
<text x="2044.2" y="1534" text-anchor="middle" font-size="20.4">microhomology</text>
<text x="2047" y="1549.8" text-anchor="middle" font-size="20.4">length</text>
</g>
</svg>
</body></html>
